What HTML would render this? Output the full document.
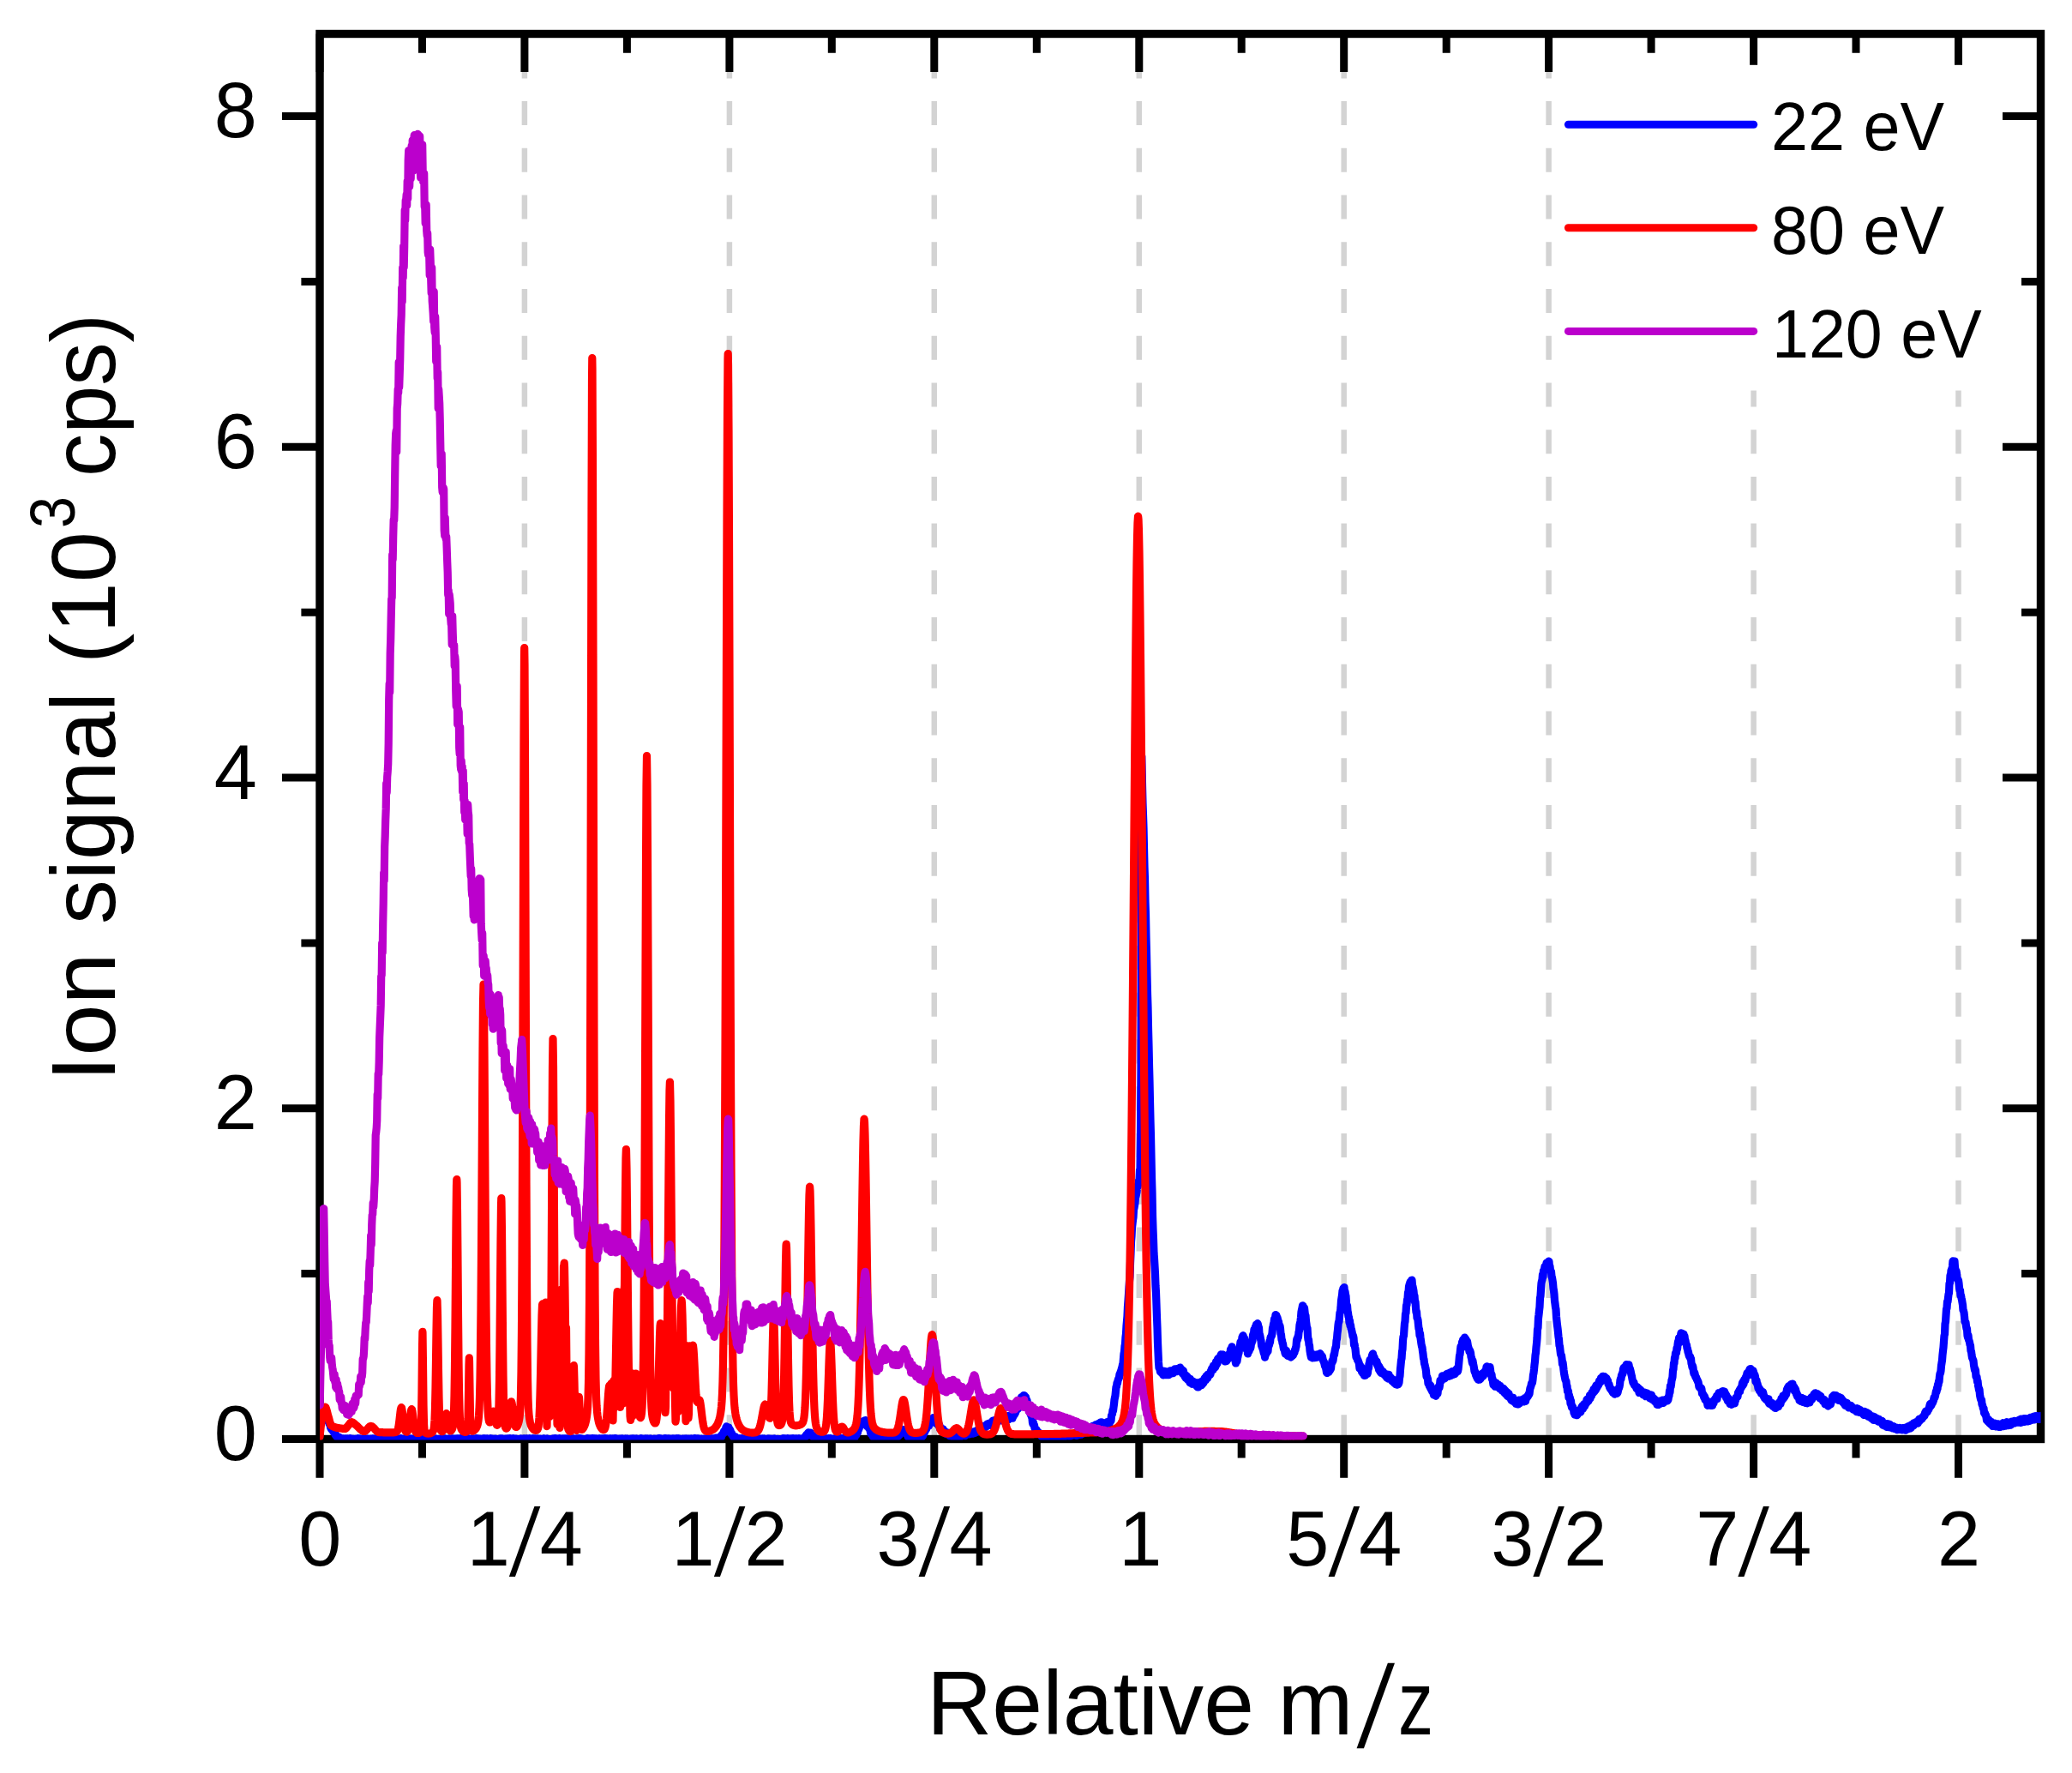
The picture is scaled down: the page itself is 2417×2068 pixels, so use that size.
<!DOCTYPE html>
<html lang="en"><head><meta charset="utf-8"><title>Ion signal vs relative m/z</title>
<style>html,body{margin:0;padding:0;background:#fff}body{width:2417px;height:2068px;overflow:hidden}svg{display:block}text{font-family:"Liberation Sans",sans-serif;fill:#000}</style></head><body>
<svg width="2417" height="2068" viewBox="0 0 2417 2068">
<rect width="2417" height="2068" fill="#fff"/>
<defs><clipPath id="plot"><rect x="373.0" y="39.5" width="2007.5" height="1640.0"/></clipPath></defs>
<g stroke="#d3d3d3" stroke-width="6.5" stroke-dasharray="28 26.72" fill="none">
<path d="M611.9 63.4V1674"/>
<path d="M850.9 63.4V1674"/>
<path d="M1089.8 63.4V1674"/>
<path d="M1328.8 63.4V1674"/>
<path d="M1567.7 63.4V1674"/>
<path d="M1806.6 63.4V1674"/>
<path d="M2045.6 63.4V1674"/>
<path d="M2284.5 63.4V1674"/>
</g>
<g stroke="#000" fill="none" stroke-linecap="butt">
<rect x="373.0" y="39.5" width="2007.5" height="1639.0" stroke-width="9.4"/>
<g stroke-width="9">
<path d="M373.0 1678.5V1723.8M373.0 39.5V84"/>
<path d="M611.9 1678.5V1723.8M611.9 39.5V84"/>
<path d="M850.9 1678.5V1723.8M850.9 39.5V84"/>
<path d="M1089.8 1678.5V1723.8M1089.8 39.5V84"/>
<path d="M1328.8 1678.5V1723.8M1328.8 39.5V84"/>
<path d="M1567.7 1678.5V1723.8M1567.7 39.5V84"/>
<path d="M1806.6 1678.5V1723.8M1806.6 39.5V84"/>
<path d="M2045.6 1678.5V1723.8M2045.6 39.5V84"/>
<path d="M2284.5 1678.5V1723.8M2284.5 39.5V84"/>
<path d="M492.5 1678.5V1700.6M492.5 39.5V61.8"/>
<path d="M731.4 1678.5V1700.6M731.4 39.5V61.8"/>
<path d="M970.3 1678.5V1700.6M970.3 39.5V61.8"/>
<path d="M1209.3 1678.5V1700.6M1209.3 39.5V61.8"/>
<path d="M1448.2 1678.5V1700.6M1448.2 39.5V61.8"/>
<path d="M1687.2 1678.5V1700.6M1687.2 39.5V61.8"/>
<path d="M1926.1 1678.5V1700.6M1926.1 39.5V61.8"/>
<path d="M2165.0 1678.5V1700.6M2165.0 39.5V61.8"/>
<path d="M373.0 1678.5H329M2380.5 1678.5H2336"/>
<path d="M373.0 1292.8H329M2380.5 1292.8H2336"/>
<path d="M373.0 907.0H329M2380.5 907.0H2336"/>
<path d="M373.0 521.3H329M2380.5 521.3H2336"/>
<path d="M373.0 135.6H329M2380.5 135.6H2336"/>
<path d="M373.0 1485.6H351.4M2380.5 1485.6H2358"/>
<path d="M373.0 1099.9H351.4M2380.5 1099.9H2358"/>
<path d="M373.0 714.2H351.4M2380.5 714.2H2358"/>
<path d="M373.0 328.5H351.4M2380.5 328.5H2358"/>
</g></g>
<g clip-path="url(#plot)" fill="none" stroke-width="9.2" stroke-linejoin="round" stroke-linecap="round">
<path stroke="#0000ff" d="M373 1637.7L373.5 1639.4L374 1639.6L374.5 1643.5L375 1641.7L375.5 1643.9L376 1643.8L376.5 1644.2L377 1648.5L377.5 1647.2L378 1648.7L378.5 1649.8L379 1651.3L379.5 1649.4L380 1649.4L380.5 1652.2L381 1651.6L381.5 1651.8L382 1657.1L382.5 1656.6L383 1656.6L383.5 1656.3L384 1660.4L384.5 1660.5L385 1660L385.5 1664.9L386 1665.9L386.5 1666.9L387 1667.5L387.5 1667.2L388 1667.2L388.5 1669.4L389 1668.4L389.5 1670.9L390 1669.9L390.5 1670.6L391 1673.4L391.5 1673L392 1674.6L392.5 1675.4L393 1676L393.5 1675.9L394 1676.8L394.5 1676.7L395 1677.5L395.5 1677.7L396 1676.3L396.5 1677L397 1677.5L397.5 1677.5L398 1677.6L398.5 1678.9L399 1677.6L399.5 1678L400 1678.9L400.5 1678.1L401 1678.1L401.5 1679.2L402 1678.9L402.5 1678.4L403 1677.9L403.5 1678.1L404 1679.3L404.5 1679L405 1677.8L405.5 1678.8L406 1678.3L406.5 1678.9L407 1678.2L407.5 1677.9L408 1677.7L408.5 1678.2L409 1679.1L409.5 1679.1L410 1678.8L410.5 1678.9L411 1678L411.5 1678.3L412 1679.1L412.5 1679.3L413 1678.4L413.5 1678.9L414 1679.2L414.5 1679.3L415 1678.2L415.5 1678.7L416 1678.3L416.5 1678.4L417 1678.4L417.5 1678.1L418 1677.7L418.5 1678.9L419 1678.8L419.5 1679L420 1677.9L420.5 1678.1L421 1678.7L421.5 1679.2L422 1678.5L422.5 1678L423 1678.7L423.5 1679.2L424 1679.1L424.5 1679.1L425 1678.4L425.5 1678.1L426 1679.1L426.5 1679L427 1679.1L427.5 1678.3L428 1678.2L428.5 1678.1L429 1679.1L429.5 1679.2L430 1678.3L430.5 1679.1L431 1678.3L431.5 1678.4L432 1678.6L432.5 1678.1L433 1678.1L433.5 1678.1L434 1678.1L434.5 1678.5L435 1677.9L435.5 1678.9L436 1678L436.5 1678.4L437 1678.7L437.5 1677.9L438 1678.4L438.5 1678.6L439 1678.6L439.5 1679.1L440 1679L440.5 1677.9L441 1679L441.5 1678.6L442 1678.8L442.5 1678L443 1678.5L443.5 1678.8L444 1679L444.5 1679L445 1678L445.5 1679L446 1678.6L446.5 1678.8L447 1679.1L447.5 1678.3L448 1679.2L448.5 1679.1L449 1679L449.5 1678.3L450 1678.5L450.5 1678L451 1678.9L451.5 1679.1L452 1678L452.5 1678.9L453 1678.8L453.5 1677.8L454 1679.2L454.5 1678.5L455 1678.1L455.5 1677.7L456 1679L456.5 1678.2L457 1678.5L457.5 1678L458 1678.7L458.5 1678.3L459 1679L459.5 1678.8L460 1678.9L460.5 1678.1L461 1677.8L461.5 1679.1L462 1679.2L462.5 1678.7L463 1679.2L463.5 1678.8L464 1678.7L464.5 1678.4L465 1678.3L465.5 1678.5L466 1678.1L466.5 1678.4L467 1678.5L467.5 1677.7L468 1678.3L468.5 1678.2L469 1678.7L469.5 1679L470 1678.7L470.5 1678.8L471 1678.7L471.5 1678.1L472 1678.3L472.5 1679.1L473 1679.2L473.5 1678L474 1677.7L474.5 1679.2L475 1679.1L475.5 1678.7L476 1679L476.5 1678.7L477 1679.1L477.5 1678.1L478 1678.4L478.5 1678.8L479 1678L479.5 1678.8L480 1678.1L480.5 1678.8L481 1679L481.5 1678.4L482 1679.3L482.5 1678.7L483 1678.9L483.5 1677.7L484 1677.9L484.5 1678.8L485 1679.2L485.5 1678.7L486 1679.2L486.5 1677.8L487 1679.1L487.5 1679.1L488 1678.7L488.5 1678.4L489 1678.8L489.5 1678.1L490 1678.8L490.5 1678.8L491 1678.6L491.5 1678.1L492 1677.7L492.5 1678L493 1679L493.5 1678L494 1677.8L494.5 1678.1L495 1678.5L495.5 1678.6L496 1679.1L496.5 1679.1L497 1679.2L497.5 1679.1L498 1678.4L498.5 1677.9L499 1679.2L499.5 1678.1L500 1678.7L500.5 1678.1L501 1679L501.5 1678L502 1678.4L502.5 1678.1L503 1679.1L503.5 1678.7L504 1678.7L504.5 1678.2L505 1678L505.5 1679.1L506 1678.9L506.5 1678.9L507 1679.3L507.5 1678.6L508 1678L508.5 1678.7L509 1678.2L509.5 1678.5L510 1678.4L510.5 1678.6L511 1679.2L511.5 1679L512 1678.4L512.5 1679L513 1679.1L513.5 1678.9L514 1678.6L514.5 1679.1L515 1678.5L515.5 1677.9L516 1678.1L516.5 1678.8L517 1678.3L517.5 1678.4L518 1678.3L518.5 1678L519 1677.8L519.5 1677.8L520 1678.8L520.5 1678.2L521 1678.4L521.5 1679.2L522 1678.7L522.5 1679L523 1678.9L523.5 1679.2L524 1677.8L524.5 1678.3L525 1679.2L525.5 1678.4L526 1679.2L526.5 1678L527 1677.8L527.5 1679.1L528 1678.4L528.5 1678.5L529 1679.2L529.5 1678.1L530 1679.2L530.5 1678.3L531 1678.1L531.5 1678.1L532 1678.5L532.5 1678.4L533 1679.1L533.5 1677.8L534 1677.8L534.5 1677.9L535 1678.7L535.5 1679L536 1678.5L536.5 1678.7L537 1678.7L537.5 1677.7L538 1678.1L538.5 1679.3L539 1678.2L539.5 1679.2L540 1678.5L540.5 1678.1L541 1677.7L541.5 1678L542 1678.2L542.5 1678.4L543 1678.4L543.5 1678.6L544 1678.5L544.5 1677.8L545 1678.1L545.5 1679.2L546 1677.7L546.5 1678.9L547 1678.5L547.5 1678.8L548 1678.2L548.5 1678.3L549 1678.5L549.5 1679.2L550 1678.2L550.5 1677.8L551 1677.8L551.5 1679.1L552 1678.2L552.5 1677.9L553 1678.7L553.5 1679.1L554 1678.7L554.5 1677.9L555 1678.3L555.5 1678.1L556 1677.7L556.5 1679.2L557 1678.4L557.5 1677.9L558 1679.1L558.5 1679.3L559 1679L559.5 1678.1L560 1678L560.5 1678.5L561 1678.6L561.5 1679.1L562 1679.2L562.5 1679.2L563 1678.2L563.5 1678.6L564 1677.9L564.5 1678.5L565 1677.8L565.5 1677.9L566 1677.9L566.5 1678.2L567 1678.2L567.5 1678.8L568 1677.8L568.5 1677.9L569 1678.8L569.5 1678.8L570 1678.8L570.5 1678.9L571 1678.8L571.5 1678.6L572 1678.9L572.5 1677.8L573 1678L573.5 1678.9L574 1678L574.5 1678.5L575 1678.1L575.5 1678.4L576 1679L576.5 1678.8L577 1678.4L577.5 1678.1L578 1679L578.5 1678.8L579 1678.4L579.5 1679.1L580 1678.8L580.5 1679.3L581 1678.8L581.5 1679.1L582 1678.6L582.5 1678.8L583 1679L583.5 1677.8L584 1678.5L584.5 1678.7L585 1677.8L585.5 1679L586 1678.8L586.5 1679.2L587 1678.3L587.5 1678.5L588 1679.2L588.5 1678.4L589 1679L589.5 1678.4L590 1678.2L590.5 1678.1L591 1678L591.5 1678.4L592 1678L592.5 1679L593 1679.3L593.5 1677.9L594 1677.8L594.5 1677.7L595 1679.2L595.5 1677.8L596 1678.8L596.5 1678.2L597 1678L597.5 1678.1L598 1678.8L598.5 1677.7L599 1679.1L599.5 1678.6L600 1678.1L600.5 1678L601 1678.7L601.5 1678.7L602 1678.2L602.5 1678.2L603 1678.4L603.5 1679.2L604 1678.6L604.5 1679L605 1678.7L605.5 1678.6L606 1678.5L606.5 1678.8L607 1678.5L607.5 1678.9L608 1678L608.5 1678.2L609 1679.1L609.5 1678.3L610 1679L610.5 1679.2L611 1678.6L611.5 1677.9L612 1678.9L612.5 1678.8L613 1678.2L613.5 1679.1L614 1678.5L614.5 1677.8L615 1677.8L615.5 1678.1L616 1678.7L616.5 1679L617 1677.9L617.5 1677.7L618 1678.7L618.5 1678.4L619 1678.4L619.5 1679L620 1679.2L620.5 1679.2L621 1678.9L621.5 1677.7L622 1677.9L622.5 1678.6L623 1679.2L623.5 1677.8L624 1678.5L624.5 1678.3L625 1678.4L625.5 1678.1L626 1678.1L626.5 1678.1L627 1677.9L627.5 1678.6L628 1678.4L628.5 1678.8L629 1678.7L629.5 1679.2L630 1678.2L630.5 1679.1L631 1678.3L631.5 1678.8L632 1679L632.5 1678.3L633 1678.4L633.5 1678.7L634 1677.9L634.5 1678.6L635 1677.9L635.5 1678.1L636 1678.7L636.5 1679.3L637 1679.3L637.5 1678.1L638 1677.9L638.5 1678.5L639 1678.4L639.5 1678.3L640 1678.9L640.5 1678.8L641 1678.6L641.5 1678.7L642 1678.6L642.5 1678.8L643 1679.2L643.5 1679.2L644 1679.3L644.5 1679.1L645 1677.9L645.5 1678.4L646 1679L646.5 1678.2L647 1678.7L647.5 1677.8L648 1678L648.5 1678.3L649 1677.8L649.5 1678.4L650 1678.1L650.5 1679.1L651 1678.2L651.5 1678.3L652 1679L652.5 1678.6L653 1677.8L653.5 1678L654 1678.7L654.5 1678L655 1678.1L655.5 1678.7L656 1678.5L656.5 1678.1L657 1678.6L657.5 1678.7L658 1677.8L658.5 1678.1L659 1678.2L659.5 1679.1L660 1677.8L660.5 1678.3L661 1678L661.5 1678.8L662 1679L662.5 1677.8L663 1679.1L663.5 1678.8L664 1678L664.5 1679.2L665 1678.2L665.5 1679L666 1677.8L666.5 1678.4L667 1678.5L667.5 1679.1L668 1679L668.5 1678.6L669 1677.8L669.5 1678.4L670 1678.3L670.5 1679.3L671 1678.8L671.5 1678.3L672 1678.3L672.5 1678.9L673 1677.9L673.5 1679L674 1678.8L674.5 1678.4L675 1678.8L675.5 1678.3L676 1677.9L676.5 1678.4L677 1677.8L677.5 1677.8L678 1678.4L678.5 1679L679 1678L679.5 1678.5L680 1679.3L680.5 1679L681 1679.1L681.5 1678.8L682 1678.6L682.5 1678.6L683 1678.7L683.5 1678.4L684 1678.3L684.5 1678.1L685 1677.8L685.5 1678.3L686 1678.9L686.5 1678.6L687 1678L687.5 1679L688 1677.8L688.5 1679.2L689 1678.7L689.5 1678.6L690 1678.4L690.5 1679L691 1677.7L691.5 1677.7L692 1678.5L692.5 1678.2L693 1678.3L693.5 1678.6L694 1677.8L694.5 1679.3L695 1678.8L695.5 1677.9L696 1678.9L696.5 1678.6L697 1678.8L697.5 1678.9L698 1679.3L698.5 1677.9L699 1679.3L699.5 1678.5L700 1678L700.5 1678.3L701 1678.3L701.5 1679.1L702 1678.5L702.5 1677.8L703 1678.8L703.5 1678.5L704 1679L704.5 1677.8L705 1679.1L705.5 1679.1L706 1677.7L706.5 1678.5L707 1677.9L707.5 1678.5L708 1677.8L708.5 1679.1L709 1678L709.5 1678.8L710 1678.7L710.5 1678.2L711 1678L711.5 1679.2L712 1677.8L712.5 1678.1L713 1678.2L713.5 1678.6L714 1678.3L714.5 1677.9L715 1678.6L715.5 1678.9L716 1678.8L716.5 1678.5L717 1678.2L717.5 1677.7L718 1678.6L718.5 1678.7L719 1678.4L719.5 1679.2L720 1678L720.5 1679L721 1678.9L721.5 1679.1L722 1679.2L722.5 1678.1L723 1679.2L723.5 1678.3L724 1678.8L724.5 1679.2L725 1678.7L725.5 1678.6L726 1677.8L726.5 1678.7L727 1678.1L727.5 1678.3L728 1678.3L728.5 1679.3L729 1678.7L729.5 1678.9L730 1678L730.5 1678.2L731 1679.1L731.5 1677.9L732 1679.2L732.5 1678.4L733 1678.3L733.5 1678.5L734 1678.4L734.5 1678.5L735 1678.4L735.5 1678.8L736 1678.1L736.5 1678L737 1678.4L737.5 1677.8L738 1678.4L738.5 1678.5L739 1679L739.5 1677.9L740 1678.3L740.5 1678.9L741 1678.2L741.5 1679L742 1678.8L742.5 1677.8L743 1678.3L743.5 1678.9L744 1678.5L744.5 1678.8L745 1679.3L745.5 1678.8L746 1678.6L746.5 1679.1L747 1678.4L747.5 1677.7L748 1678.1L748.5 1678.7L749 1679.2L749.5 1678.7L750 1678.2L750.5 1679.3L751 1678.3L751.5 1678.1L752 1678.6L752.5 1678.3L753 1677.9L753.5 1678.8L754 1678.8L754.5 1679.3L755 1677.9L755.5 1679.2L756 1679L756.5 1678.1L757 1678.5L757.5 1678.7L758 1678.2L758.5 1677.9L759 1679L759.5 1678L760 1678.5L760.5 1678.4L761 1679.1L761.5 1678.6L762 1678.4L762.5 1679.3L763 1678.3L763.5 1678.9L764 1678.1L764.5 1678.9L765 1678.9L765.5 1679L766 1678.5L766.5 1678.1L767 1678.7L767.5 1679.2L768 1678.2L768.5 1677.7L769 1678L769.5 1679.2L770 1677.7L770.5 1677.8L771 1677.9L771.5 1679.1L772 1678.3L772.5 1678.8L773 1678.8L773.5 1678.4L774 1678.9L774.5 1678.4L775 1678.6L775.5 1678.2L776 1677.7L776.5 1678.6L777 1678.1L777.5 1678.1L778 1679.1L778.5 1678.3L779 1677.9L779.5 1678.7L780 1678.6L780.5 1677.8L781 1678.3L781.5 1678.7L782 1678.1L782.5 1679.3L783 1679L783.5 1678.5L784 1679.2L784.5 1677.8L785 1678.1L785.5 1679.2L786 1678.5L786.5 1678L787 1678.6L787.5 1678.9L788 1678.7L788.5 1677.8L789 1677.8L789.5 1678.4L790 1677.7L790.5 1677.8L791 1678.7L791.5 1678.4L792 1677.8L792.5 1679.1L793 1678.3L793.5 1679.1L794 1678.7L794.5 1678.7L795 1678.4L795.5 1678.8L796 1678.1L796.5 1678.1L797 1679.1L797.5 1678L798 1678.3L798.5 1678.9L799 1678.2L799.5 1678.3L800 1679.2L800.5 1678L801 1678.1L801.5 1679.1L802 1678.1L802.5 1678.2L803 1679.1L803.5 1678.2L804 1679.3L804.5 1679L805 1679.1L805.5 1678.1L806 1678L806.5 1678.9L807 1679L807.5 1678.1L808 1678L808.5 1678.1L809 1677.9L809.5 1678.4L810 1678.5L810.5 1678.7L811 1677.8L811.5 1678L812 1677.9L812.5 1678.1L813 1678L813.5 1679.2L814 1678.3L814.5 1677.9L815 1678.8L815.5 1679.3L816 1679L816.5 1678.7L817 1678.3L817.5 1678.3L818 1678.2L818.5 1679L819 1679L819.5 1678.5L820 1679.1L820.5 1678.7L821 1678.8L821.5 1678.1L822 1678.1L822.5 1678.1L823 1679.2L823.5 1679L824 1679.1L824.5 1679L825 1679L825.5 1678.4L826 1678.9L826.5 1678L827 1678.7L827.5 1677.8L828 1679.2L828.5 1679.1L829 1678L829.5 1678.9L830 1679L830.5 1677.8L831 1678.6L831.5 1678.3L832 1678.6L832.5 1679L833 1678.7L833.5 1677.7L834 1678.2L834.5 1678.2L835 1677.1L835.5 1677.2L836 1677.5L836.5 1677L837 1676.9L837.5 1677.7L838 1678.1L838.5 1676.9L839 1677.1L839.5 1677.2L840 1676.9L840.5 1676.6L841 1674.7L841.5 1676.1L842 1673.7L842.5 1672.9L843 1672.9L843.5 1672.2L844 1671.9L844.5 1669.4L845 1670.8L845.5 1668.8L846 1668.9L846.5 1666.8L847 1664.6L847.5 1663.9L848 1666.3L848.5 1665.3L849 1665.5L849.5 1665.3L850 1665.2L850.5 1667L851 1666.8L851.5 1670L852 1668.3L852.5 1671.9L853 1672.3L853.5 1671.7L854 1673.7L854.5 1674L855 1674.5L855.5 1676L856 1676.6L856.5 1675.6L857 1677.4L857.5 1675.7L858 1675.8L858.5 1677L859 1676.8L859.5 1677.2L860 1677.5L860.5 1677.6L861 1678.6L861.5 1678.7L862 1677.8L862.5 1677.8L863 1678.5L863.5 1677.8L864 1678.2L864.5 1678.8L865 1677.7L865.5 1678.9L866 1678.9L866.5 1678.3L867 1678.1L867.5 1678.6L868 1678.2L868.5 1679L869 1678.6L869.5 1678.2L870 1679L870.5 1678.7L871 1677.9L871.5 1678.4L872 1678.5L872.5 1679.2L873 1678.2L873.5 1678.4L874 1679.3L874.5 1678.4L875 1679L875.5 1677.9L876 1678.3L876.5 1678L877 1679.1L877.5 1678.6L878 1678L878.5 1677.8L879 1678.4L879.5 1677.9L880 1678.5L880.5 1678.9L881 1678.2L881.5 1678L882 1678.3L882.5 1678L883 1679.1L883.5 1677.9L884 1678.9L884.5 1678.2L885 1678.9L885.5 1678.9L886 1677.9L886.5 1678.9L887 1679.2L887.5 1678.6L888 1678.7L888.5 1678.2L889 1678L889.5 1678.9L890 1679L890.5 1678L891 1677.9L891.5 1678.3L892 1678.7L892.5 1678.3L893 1679.2L893.5 1679L894 1679.2L894.5 1678.7L895 1678.9L895.5 1679.2L896 1677.8L896.5 1678.6L897 1678L897.5 1679L898 1678.1L898.5 1678.9L899 1678.2L899.5 1678.7L900 1678.8L900.5 1679.2L901 1679.1L901.5 1678.4L902 1678.8L902.5 1678L903 1677.9L903.5 1678.8L904 1679.2L904.5 1678.9L905 1678.5L905.5 1678.7L906 1678.9L906.5 1678.6L907 1678.3L907.5 1679.1L908 1678.3L908.5 1679.1L909 1679L909.5 1679L910 1679L910.5 1679.3L911 1679.3L911.5 1678.5L912 1678.3L912.5 1678.9L913 1679.2L913.5 1678.7L914 1677.7L914.5 1677.8L915 1678.4L915.5 1679L916 1679.1L916.5 1678.3L917 1678.5L917.5 1678.5L918 1677.9L918.5 1677.7L919 1678.5L919.5 1678.5L920 1679.1L920.5 1678L921 1679.1L921.5 1678.1L922 1678.6L922.5 1678.8L923 1677.9L923.5 1679.2L924 1679.2L924.5 1679.3L925 1677.7L925.5 1678.7L926 1678.8L926.5 1679.1L927 1678L927.5 1677.9L928 1679L928.5 1678.1L929 1677.8L929.5 1677.8L930 1678.7L930.5 1678.6L931 1678.9L931.5 1679L932 1677.7L932.5 1679.2L933 1679.1L933.5 1679.2L934 1678.9L934.5 1678.3L935 1678.1L935.5 1679.1L936 1678.1L936.5 1678L937 1678.1L937.5 1677.6L938 1677.2L938.5 1676.6L939 1675.8L939.5 1675.9L940 1674.4L940.5 1673.6L941 1674.8L941.5 1674.2L942 1673.5L942.5 1671.5L943 1670.9L943.5 1673.3L944 1673.3L944.5 1671.4L945 1672.6L945.5 1671.1L946 1672.5L946.5 1673.8L947 1673.3L947.5 1675L948 1675.7L948.5 1674.4L949 1676.2L949.5 1676L950 1676.1L950.5 1677L951 1677.6L951.5 1678.7L952 1678.7L952.5 1677.6L953 1677.8L953.5 1679.3L954 1678.6L954.5 1678.7L955 1678.3L955.5 1679L956 1678.6L956.5 1678.6L957 1678.1L957.5 1678.9L958 1678L958.5 1677.9L959 1678.6L959.5 1679L960 1678.1L960.5 1678.2L961 1677.9L961.5 1678.6L962 1678.9L962.5 1677.9L963 1678.5L963.5 1678.5L964 1677.8L964.5 1678.5L965 1678.1L965.5 1677.9L966 1679.2L966.5 1677.7L967 1678.2L967.5 1678.6L968 1678.2L968.5 1677.6L969 1679L969.5 1677.9L970 1678.2L970.5 1679.1L971 1679.1L971.5 1679L972 1678.2L972.5 1678.7L973 1678.9L973.5 1677.8L974 1679.1L974.5 1677.6L975 1678.5L975.5 1677.8L976 1677.8L976.5 1677.6L977 1679L977.5 1677.6L978 1678.9L978.5 1677.6L979 1677.9L979.5 1677.7L980 1679L980.5 1677.4L981 1678.7L981.5 1677.7L982 1678.9L982.5 1678.5L983 1677.6L983.5 1678L984 1677.4L984.5 1677.8L985 1677.1L985.5 1678.3L986 1678.1L986.5 1677.5L987 1677L987.5 1678.7L988 1677.2L988.5 1677.5L989 1676.9L989.5 1677.6L990 1677.6L990.5 1677.8L991 1677.4L991.5 1677.2L992 1678.2L992.5 1677.2L993 1677.3L993.5 1677.6L994 1677.1L994.5 1678L995 1676.7L995.5 1677L996 1676.9L996.5 1676.1L997 1676.8L997.5 1675L998 1674.3L998.5 1673.5L999 1673.6L999.5 1670.7L1000 1671.5L1000.5 1670.9L1001 1667.2L1001.5 1665.6L1002 1666.9L1002.5 1663.7L1003 1662.2L1003.5 1660.4L1004 1661.9L1004.5 1662.4L1005 1661.3L1005.5 1659.2L1006 1657.9L1006.5 1660L1007 1658.1L1007.5 1659.4L1008 1658.1L1008.5 1658.4L1009 1658.7L1009.5 1656.5L1010 1657.8L1010.5 1657.7L1011 1662.6L1011.5 1663.8L1012 1663L1012.5 1662L1013 1663.1L1013.5 1665.7L1014 1666.6L1014.5 1667.1L1015 1667.9L1015.5 1671L1016 1672.5L1016.5 1671.3L1017 1672.9L1017.5 1673.8L1018 1675.1L1018.5 1675.9L1019 1675.9L1019.5 1677.2L1020 1676.3L1020.5 1676.1L1021 1677.2L1021.5 1677.4L1022 1677.5L1022.5 1676L1023 1676.1L1023.5 1676.7L1024 1677.8L1024.5 1677.1L1025 1677.1L1025.5 1676.6L1026 1678L1026.5 1676.3L1027 1677.1L1027.5 1677.4L1028 1677.7L1028.5 1677.7L1029 1676.9L1029.5 1676.7L1030 1678.1L1030.5 1677.3L1031 1676.8L1031.5 1676.5L1032 1677.9L1032.5 1678L1033 1677.4L1033.5 1677.1L1034 1677.6L1034.5 1678.3L1035 1677.5L1035.5 1677.9L1036 1678.1L1036.5 1677.9L1037 1677.4L1037.5 1676.8L1038 1677.8L1038.5 1678.1L1039 1678.3L1039.5 1676.8L1040 1676.7L1040.5 1677.7L1041 1678.1L1041.5 1676.7L1042 1677.7L1042.5 1677L1043 1678.5L1043.5 1677.2L1044 1676.7L1044.5 1678L1045 1677.1L1045.5 1677.2L1046 1676.4L1046.5 1676.3L1047 1675.3L1047.5 1674.9L1048 1674.9L1048.5 1673.3L1049 1673.5L1049.5 1673.4L1050 1671.6L1050.5 1668.9L1051 1671.4L1051.5 1668.1L1052 1668.1L1052.5 1668.3L1053 1668.5L1053.5 1667.4L1054 1668L1054.5 1669L1055 1668.8L1055.5 1668.8L1056 1669.9L1056.5 1670.5L1057 1671L1057.5 1672.8L1058 1673.4L1058.5 1673.9L1059 1675.4L1059.5 1676.3L1060 1676.6L1060.5 1676.4L1061 1678L1061.5 1676.6L1062 1678.1L1062.5 1677.3L1063 1677.3L1063.5 1678.1L1064 1677.7L1064.5 1678.3L1065 1678.1L1065.5 1676.6L1066 1677.3L1066.5 1677.8L1067 1676.3L1067.5 1677.2L1068 1678L1068.5 1676.4L1069 1676.1L1069.5 1676.3L1070 1676.4L1070.5 1676.1L1071 1676.3L1071.5 1677.1L1072 1676.3L1072.5 1676.3L1073 1675.1L1073.5 1674.9L1074 1676.8L1074.5 1675.3L1075 1676.6L1075.5 1674.9L1076 1675.3L1076.5 1674.9L1077 1672.7L1077.5 1671.9L1078 1672.1L1078.5 1670.2L1079 1669.8L1079.5 1668.4L1080 1667.7L1080.5 1667.1L1081 1665.4L1081.5 1664.4L1082 1663.9L1082.5 1663.7L1083 1659.7L1083.5 1663.1L1084 1659.5L1084.5 1660.9L1085 1655.8L1085.5 1655.3L1086 1654.9L1086.5 1658.3L1087 1655.5L1087.5 1657.3L1088 1656.5L1088.5 1653.7L1089 1655.1L1089.5 1655.2L1090 1656.1L1090.5 1658L1091 1655.2L1091.5 1659.8L1092 1658.2L1092.5 1658.3L1093 1660.5L1093.5 1659.3L1094 1662L1094.5 1661.4L1095 1662.4L1095.5 1661.8L1096 1662.6L1096.5 1666.3L1097 1665.7L1097.5 1665.7L1098 1667.8L1098.5 1668.9L1099 1666.5L1099.5 1670.2L1100 1666.9L1100.5 1669.5L1101 1668.5L1101.5 1668.8L1102 1670L1102.5 1670.7L1103 1670.5L1103.5 1671.7L1104 1672.7L1104.5 1670.6L1105 1671.1L1105.5 1672.5L1106 1672.2L1106.5 1672.2L1107 1673.1L1107.5 1673.9L1108 1674.7L1108.5 1675L1109 1674.9L1109.5 1673.9L1110 1675.4L1110.5 1675.2L1111 1674L1111.5 1676.1L1112 1674.5L1112.5 1675.7L1113 1675.8L1113.5 1676.4L1114 1675.8L1114.5 1676.6L1115 1674.5L1115.5 1674.4L1116 1674.8L1116.5 1675.6L1117 1675.2L1117.5 1674.4L1118 1674.6L1118.5 1675.5L1119 1675L1119.5 1675.8L1120 1675L1120.5 1675.9L1121 1675.6L1121.5 1674.8L1122 1674.4L1122.5 1673.9L1123 1674L1123.5 1674L1124 1673.9L1124.5 1673.3L1125 1674L1125.5 1672.8L1126 1674.8L1126.5 1673.8L1127 1672.4L1127.5 1672.8L1128 1672.5L1128.5 1672.1L1129 1672.8L1129.5 1671.8L1130 1671.5L1130.5 1673L1131 1672L1131.5 1672.6L1132 1671.9L1132.5 1671.8L1133 1671L1133.5 1671.2L1134 1671.3L1134.5 1670.6L1135 1672.1L1135.5 1670L1136 1669.8L1136.5 1670L1137 1671.3L1137.5 1671.3L1138 1670.1L1138.5 1669.2L1139 1670L1139.5 1670.4L1140 1668.1L1140.5 1669.4L1141 1669.4L1141.5 1668L1142 1666.8L1142.5 1668.3L1143 1666.5L1143.5 1666.9L1144 1667.3L1144.5 1668.7L1145 1665.2L1145.5 1664.6L1146 1666.3L1146.5 1667.7L1147 1663.7L1147.5 1665.9L1148 1663L1148.5 1665L1149 1662.8L1149.5 1664.9L1150 1663.2L1150.5 1664.2L1151 1662.1L1151.5 1660.9L1152 1661.1L1152.5 1661.2L1153 1660.4L1153.5 1660.2L1154 1661.6L1154.5 1660.8L1155 1662.3L1155.5 1660.5L1156 1660.5L1156.5 1661.1L1157 1661.5L1157.5 1660L1158 1657.2L1158.5 1659L1159 1656.8L1159.5 1659.2L1160 1656.5L1160.5 1658.5L1161 1656.5L1161.5 1659.6L1162 1655.8L1162.5 1658.3L1163 1658.3L1163.5 1656.1L1164 1657.4L1164.5 1656L1165 1655.5L1165.5 1655.3L1166 1654L1166.5 1656.9L1167 1653.9L1167.5 1654.4L1168 1653.7L1168.5 1656.9L1169 1655.5L1169.5 1655L1170 1655.4L1170.5 1656.3L1171 1655.3L1171.5 1654.7L1172 1653.6L1172.5 1654.5L1173 1656.6L1173.5 1654.5L1174 1654L1174.5 1655.9L1175 1651.8L1175.5 1651.7L1176 1655.1L1176.5 1655.8L1177 1651.4L1177.5 1651.2L1178 1651L1178.5 1653.6L1179 1651.3L1179.5 1653.2L1180 1653.6L1180.5 1650.3L1181 1654.2L1181.5 1651L1182 1652.2L1182.5 1651L1183 1650.4L1183.5 1650L1184 1647.1L1184.5 1648.2L1185 1646.2L1185.5 1645.4L1186 1643.1L1186.5 1642.7L1187 1643.2L1187.5 1643.5L1188 1638.5L1188.5 1640.8L1189 1638.3L1189.5 1634.5L1190 1632.8L1190.5 1635.9L1191 1631.4L1191.5 1629.6L1192 1631.4L1192.5 1630.8L1193 1631.1L1193.5 1628.7L1194 1627.6L1194.5 1627.9L1195 1627.7L1195.5 1630.5L1196 1632.9L1196.5 1629.6L1197 1632.3L1197.5 1633.4L1198 1633.3L1198.5 1637.4L1199 1640.8L1199.5 1638.8L1200 1642.5L1200.5 1644.8L1201 1643.2L1201.5 1647.9L1202 1648.9L1202.5 1650.4L1203 1650.3L1203.5 1652.8L1204 1654L1204.5 1659.7L1205 1661L1205.5 1659.1L1206 1662.4L1206.5 1662.2L1207 1666L1207.5 1666.3L1208 1668.8L1208.5 1668.9L1209 1667.4L1209.5 1669.2L1210 1670.5L1210.5 1672L1211 1670.7L1211.5 1670.6L1212 1671.4L1212.5 1671.7L1213 1671.8L1213.5 1672.8L1214 1672.9L1214.5 1674L1215 1675.3L1215.5 1675.7L1216 1674L1216.5 1675.2L1217 1675.7L1217.5 1674.6L1218 1675.7L1218.5 1675L1219 1675.5L1219.5 1675.5L1220 1676.6L1220.5 1675.3L1221 1676L1221.5 1676.1L1222 1675.5L1222.5 1676.9L1223 1675.5L1223.5 1675.5L1224 1676.3L1224.5 1675.8L1225 1676.4L1225.5 1675L1226 1675L1226.5 1676.3L1227 1675.5L1227.5 1676.6L1228 1675.1L1228.5 1675.1L1229 1676.5L1229.5 1675.4L1230 1674.8L1230.5 1675L1231 1676.2L1231.5 1675L1232 1675.7L1232.5 1676.3L1233 1675.8L1233.5 1676.1L1234 1676.6L1234.5 1674.9L1235 1676.3L1235.5 1675.5L1236 1674.6L1236.5 1674.4L1237 1674.8L1237.5 1674.3L1238 1675.8L1238.5 1675.2L1239 1673.9L1239.5 1675.9L1240 1675.2L1240.5 1674.8L1241 1674L1241.5 1674.8L1242 1675.8L1242.5 1674.9L1243 1674.6L1243.5 1674.9L1244 1674.7L1244.5 1674.8L1245 1673.7L1245.5 1673.5L1246 1673.1L1246.5 1675.2L1247 1672.9L1247.5 1673.5L1248 1674.3L1248.5 1674L1249 1675.1L1249.5 1673.2L1250 1672.8L1250.5 1672.9L1251 1673.7L1251.5 1673.1L1252 1673.5L1252.5 1674L1253 1672.9L1253.5 1673.8L1254 1672L1254.5 1673.4L1255 1674.3L1255.5 1674.3L1256 1673.2L1256.5 1674.3L1257 1672.1L1257.5 1672.2L1258 1672.5L1258.5 1672.6L1259 1673.5L1259.5 1672.3L1260 1671L1260.5 1672.9L1261 1671.3L1261.5 1673.2L1262 1671.1L1262.5 1671.3L1263 1670.7L1263.5 1671L1264 1671.8L1264.5 1670.5L1265 1669.6L1265.5 1671.1L1266 1671.4L1266.5 1669L1267 1669.8L1267.5 1668.3L1268 1667.8L1268.5 1668.7L1269 1668.1L1269.5 1669.9L1270 1666.4L1270.5 1668.4L1271 1668.4L1271.5 1666.9L1272 1666.9L1272.5 1665.5L1273 1665.2L1273.5 1664L1274 1667.3L1274.5 1663.3L1275 1663.4L1275.5 1665.7L1276 1664.2L1276.5 1664.2L1277 1663L1277.5 1662.1L1278 1664.8L1278.5 1661.5L1279 1662.1L1279.5 1664L1280 1661.7L1280.5 1664.5L1281 1660.7L1281.5 1662.1L1282 1662L1282.5 1661.6L1283 1662.7L1283.5 1659.2L1284 1661.4L1284.5 1662.4L1285 1658.9L1285.5 1661.2L1286 1660.6L1286.5 1660.4L1287 1661L1287.5 1661.4L1288 1661.7L1288.5 1662.6L1289 1661.4L1289.5 1663L1290 1661.4L1290.5 1659.6L1291 1659L1291.5 1658.6L1292 1659.5L1292.5 1658.7L1293 1661.3L1293.5 1661.3L1294 1660.8L1294.5 1659.2L1295 1658.6L1295.5 1656.2L1296 1657.5L1296.5 1651.1L1297 1650.3L1297.5 1649.1L1298 1644.8L1298.5 1645.7L1299 1641.3L1299.5 1637.7L1300 1632.7L1300.5 1630.1L1301 1627.9L1301.5 1622.6L1302 1617.8L1302.5 1617.3L1303 1613L1303.5 1613.4L1304 1610.5L1304.5 1608.8L1305 1608.2L1305.5 1606.6L1306 1602.9L1306.5 1603.3L1307 1600.6L1307.5 1599.3L1308 1598L1308.5 1595.9L1309 1594.6L1309.5 1591.7L1310 1590.8L1310.5 1584.6L1311 1579.1L1311.5 1576.5L1312 1570.2L1312.5 1567.7L1313 1559.6L1313.5 1555.8L1314 1546.7L1314.5 1540.9L1315 1535.1L1315.5 1523.6L1316 1517.2L1316.5 1509.7L1317 1501.3L1317.5 1494L1318 1489.1L1318.5 1473.4L1319 1462.3L1319.5 1448.4L1320 1442.2L1320.5 1431.6L1321 1427.8L1321.5 1423.1L1322 1420L1322.5 1410.8L1323 1409L1323.5 1406L1324 1403.1L1324.5 1396.4L1325 1395.3L1325.5 1392.9L1326 1390.6L1326.5 1385.1L1327 1384.7L1327.5 1381.8L1328 1380L1328.5 1376.7L1329 1376.5L1329.5 1364.7L1330 1364.1L1330.5 1325.7L1331 1246.9L1331.5 991.8L1331.8 882.2L1332 891.1L1332.5 916.3L1333 936.8L1333.5 950.7L1334 965.8L1334.5 989.4L1335 1011.3L1335.5 1025.2L1336 1051.8L1336.5 1066.3L1337 1093.3L1337.5 1112.8L1338 1137.7L1338.5 1159.3L1339 1174.8L1339.5 1200L1340 1219.7L1340.5 1242.8L1341 1261.7L1341.5 1285.5L1342 1307.3L1342.5 1325.7L1343 1350.1L1343.5 1373.9L1344 1390.3L1344.5 1418L1345 1433.8L1345.5 1446L1346 1461.9L1346.5 1468.3L1347 1477L1347.5 1485.9L1348 1499.6L1348.5 1507.6L1349 1522L1349.5 1536.6L1350 1548.9L1350.5 1566L1351 1577.4L1351.5 1589L1352 1595.4L1352.5 1596.1L1353 1597.1L1353.5 1600L1354 1600.7L1354.5 1599.8L1355 1599.5L1355.5 1600.3L1356 1602.4L1356.5 1599.4L1357 1603.9L1357.5 1599.9L1358 1600.1L1358.5 1599.4L1359 1600.9L1359.5 1600.8L1360 1602.5L1360.5 1603.7L1361 1600.2L1361.5 1603.2L1362 1600.6L1362.5 1601.1L1363 1599.6L1363.5 1603.7L1364 1600.9L1364.5 1602.6L1365 1598.8L1365.5 1602.3L1366 1599.6L1366.5 1600.6L1367 1601.6L1367.5 1598.6L1368 1600.3L1368.5 1601.7L1369 1597.8L1369.5 1599.1L1370 1597.3L1370.5 1596.8L1371 1598.4L1371.5 1598L1372 1598.7L1372.5 1599.7L1373 1598.6L1373.5 1596.4L1374 1597.1L1374.5 1598L1375 1598.8L1375.5 1597.9L1376 1596.9L1376.5 1595L1377 1599.3L1377.5 1596.5L1378 1597.6L1378.5 1600.7L1379 1597.7L1379.5 1602.2L1380 1599.2L1380.5 1599.2L1381 1602.3L1381.5 1604.6L1382 1603.2L1382.5 1606.4L1383 1604.7L1383.5 1607.6L1384 1604.5L1384.5 1606L1385 1605.6L1385.5 1609.3L1386 1608.3L1386.5 1609.7L1387 1607.9L1387.5 1611L1388 1612.8L1388.5 1608.4L1389 1610.1L1389.5 1613.5L1390 1613.8L1390.5 1614.3L1391 1611.2L1391.5 1613.4L1392 1611.2L1392.5 1613.4L1393 1614.5L1393.5 1613.1L1394 1614.2L1394.5 1614.1L1395 1612.8L1395.5 1612.9L1396 1616.8L1396.5 1612.8L1397 1618L1397.5 1617.6L1398 1618L1398.5 1616.9L1399 1612.6L1399.5 1612.9L1400 1613.7L1400.5 1612.7L1401 1611.7L1401.5 1615.8L1402 1615.3L1402.5 1614.1L1403 1610.8L1403.5 1613.5L1404 1612.7L1404.5 1609.5L1405 1607.9L1405.5 1607.3L1406 1608.1L1406.5 1609.8L1407 1605.1L1407.5 1606.3L1408 1605.3L1408.5 1607.6L1409 1603L1409.5 1605.1L1410 1602.7L1410.5 1603.8L1411 1604.1L1411.5 1603.5L1412 1602.8L1412.5 1599.1L1413 1598.2L1413.5 1596.6L1414 1596.6L1414.5 1595L1415 1597.8L1415.5 1593L1416 1593L1416.5 1595.4L1417 1594.5L1417.5 1594.9L1418 1590.9L1418.5 1588.3L1419 1591.8L1419.5 1588.3L1420 1590.2L1420.5 1585.2L1421 1584.5L1421.5 1586.8L1422 1586.5L1422.5 1585L1423 1584.1L1423.5 1583.8L1424 1580.6L1424.5 1579.8L1425 1581L1425.5 1581.8L1426 1580.1L1426.5 1579.9L1427 1581.8L1427.5 1582.3L1428 1582.4L1428.5 1586.9L1429 1588L1429.5 1583.9L1430 1587.1L1430.5 1586.4L1431 1587.4L1431.5 1585.8L1432 1585.6L1432.5 1584.2L1433 1583.1L1433.5 1584.1L1434 1578.8L1434.5 1581.2L1435 1578.7L1435.5 1573.9L1436 1575L1436.5 1575.7L1437 1570.9L1437.5 1574.2L1438 1575.2L1438.5 1576.3L1439 1578.4L1439.5 1579.6L1440 1584.9L1440.5 1584.2L1441 1586.7L1441.5 1590L1442 1586.5L1442.5 1585.5L1443 1587.7L1443.5 1584.2L1444 1582.2L1444.5 1578.1L1445 1578.1L1445.5 1574.2L1446 1572.7L1446.5 1569.5L1447 1565.4L1447.5 1567.8L1448 1564.8L1448.5 1564.7L1449 1559.8L1449.5 1558.8L1450 1557.7L1450.5 1559L1451 1560L1451.5 1560.6L1452 1562.7L1452.5 1564.9L1453 1570.1L1453.5 1569.9L1454 1573.9L1454.5 1571.4L1455 1573.6L1455.5 1578.9L1456 1574.3L1456.5 1574.2L1457 1576.2L1457.5 1574L1458 1572.2L1458.5 1573L1459 1571.2L1459.5 1566.9L1460 1566.8L1460.5 1564.1L1461 1564L1461.5 1557.3L1462 1555.9L1462.5 1555.7L1463 1550.5L1463.5 1553.4L1464 1552.4L1464.5 1547.2L1465 1548.7L1465.5 1544.9L1466 1548.6L1466.5 1544.3L1467 1543.7L1467.5 1545.2L1468 1549.1L1468.5 1548.6L1469 1556.2L1469.5 1556.7L1470 1559L1470.5 1562.1L1471 1563.7L1471.5 1569.1L1472 1570.8L1472.5 1571.8L1473 1573.3L1473.5 1574.6L1474 1577.2L1474.5 1578.8L1475 1578.1L1475.5 1583.1L1476 1579.2L1476.5 1580.2L1477 1576.6L1477.5 1578.2L1478 1577.3L1478.5 1572.6L1479 1575.9L1479.5 1569.5L1480 1568.1L1480.5 1568.9L1481 1564.7L1481.5 1565.9L1482 1560.5L1482.5 1559.1L1483 1559L1483.5 1557.5L1484 1555L1484.5 1548.9L1485 1547.6L1485.5 1544.2L1486 1543.3L1486.5 1538.4L1487 1540.1L1487.5 1537.8L1488 1533.6L1488.5 1534L1489 1534.3L1489.5 1538.4L1490 1536.6L1490.5 1539L1491 1542.5L1491.5 1541.4L1492 1546.9L1492.5 1545.5L1493 1546.5L1493.5 1549.7L1494 1555.9L1494.5 1556.9L1495 1562.3L1495.5 1563.2L1496 1566.7L1496.5 1567.2L1497 1570.8L1497.5 1573.4L1498 1573.3L1498.5 1575.3L1499 1578.2L1499.5 1579.3L1500 1576.5L1500.5 1575.3L1501 1580L1501.5 1578.2L1502 1581.4L1502.5 1580.6L1503 1578.7L1503.5 1581.7L1504 1580.2L1504.5 1581.4L1505 1582.5L1505.5 1580.9L1506 1583.1L1506.5 1580.1L1507 1580L1507.5 1581.4L1508 1579.6L1508.5 1580.6L1509 1578.6L1509.5 1578.5L1510 1577.5L1510.5 1574.4L1511 1574.6L1511.5 1571.9L1512 1570.3L1512.5 1563.5L1513 1561.4L1513.5 1562.8L1514 1559L1514.5 1559.7L1515 1553.8L1515.5 1552.2L1516 1545.4L1516.5 1543.5L1517 1540.9L1517.5 1536.7L1518 1530.1L1518.5 1527.7L1519 1525.6L1519.5 1522.8L1520 1523.1L1520.5 1526.4L1521 1527L1521.5 1525.5L1522 1530.1L1522.5 1534.6L1523 1534.5L1523.5 1541.1L1524 1544.7L1524.5 1549.4L1525 1549L1525.5 1558.1L1526 1562.7L1526.5 1562.6L1527 1568.7L1527.5 1569.2L1528 1575.3L1528.5 1578.6L1529 1581L1529.5 1583.2L1530 1580.9L1530.5 1580.1L1531 1583.9L1531.5 1579.5L1532 1580.6L1532.5 1580.5L1533 1583.4L1533.5 1581.5L1534 1583.6L1534.5 1582.5L1535 1583.3L1535.5 1582.9L1536 1583.3L1536.5 1579.8L1537 1580.2L1537.5 1581.6L1538 1581.3L1538.5 1582.3L1539 1582.4L1539.5 1579.6L1540 1578.7L1540.5 1582.6L1541 1582.9L1541.5 1581.5L1542 1581.4L1542.5 1582.5L1543 1585.2L1543.5 1586.8L1544 1588L1544.5 1588.7L1545 1590.9L1545.5 1593.3L1546 1593.3L1546.5 1595.2L1547 1597.6L1547.5 1600.7L1548 1601.5L1548.5 1599.4L1549 1598L1549.5 1598.6L1550 1600.4L1550.5 1598.3L1551 1598.4L1551.5 1598.3L1552 1596.7L1552.5 1596.5L1553 1590.8L1553.5 1590.4L1554 1587.2L1554.5 1588.2L1555 1586.8L1555.5 1582.9L1556 1579.9L1556.5 1580.2L1557 1576.3L1557.5 1573.7L1558 1571.5L1558.5 1571.1L1559 1563.8L1559.5 1561.6L1560 1555.4L1560.5 1551.3L1561 1545.6L1561.5 1541.9L1562 1541.6L1562.5 1535.8L1563 1530.7L1563.5 1530.5L1564 1525.3L1564.5 1517.2L1565 1514.1L1565.5 1511.1L1566 1505.6L1566.5 1504.8L1567 1502.5L1567.5 1505.3L1568 1501.6L1568.5 1508.7L1569 1506.4L1569.5 1509.9L1570 1511.7L1570.5 1520.3L1571 1523.6L1571.5 1522.7L1572 1529.1L1572.5 1531.5L1573 1535.6L1573.5 1536.5L1574 1542.6L1574.5 1540.6L1575 1546.4L1575.5 1545.4L1576 1549.8L1576.5 1550.8L1577 1553.6L1577.5 1555.8L1578 1558.8L1578.5 1558L1579 1560.6L1579.5 1568.6L1580 1567.4L1580.5 1571L1581 1573.2L1581.5 1578.4L1582 1583L1582.5 1582.4L1583 1584.2L1583.5 1586.4L1584 1586.3L1584.5 1588L1585 1588.9L1585.5 1591.5L1586 1596.2L1586.5 1592.6L1587 1595.8L1587.5 1594.9L1588 1594.9L1588.5 1600.1L1589 1597L1589.5 1597.8L1590 1602.2L1590.5 1599.7L1591 1599.9L1591.5 1604.4L1592 1600.6L1592.5 1604.3L1593 1601.6L1593.5 1603L1594 1601.3L1594.5 1600.6L1595 1602.6L1595.5 1600.9L1596 1595.1L1596.5 1596.1L1597 1590.8L1597.5 1589.5L1598 1586.2L1598.5 1587.4L1599 1586.1L1599.5 1584.8L1600 1583.9L1600.5 1581.1L1601 1579.7L1601.5 1578.9L1602 1581.7L1602.5 1584.9L1603 1582.9L1603.5 1584.6L1604 1587.2L1604.5 1587.9L1605 1588.3L1605.5 1588.6L1606 1587.8L1606.5 1591.9L1607 1591.3L1607.5 1594.1L1608 1592.6L1608.5 1597.6L1609 1594.4L1609.5 1598.8L1610 1600.1L1610.5 1596.8L1611 1601.3L1611.5 1600.6L1612 1600.8L1612.5 1599.4L1613 1600.2L1613.5 1600.1L1614 1601.6L1614.5 1603.1L1615 1603.9L1615.5 1604.1L1616 1602.5L1616.5 1602.8L1617 1605.4L1617.5 1606.9L1618 1603.1L1618.5 1604.5L1619 1604.1L1619.5 1608.1L1620 1603.3L1620.5 1608.3L1621 1608L1621.5 1606L1622 1608.2L1622.5 1606.9L1623 1608.7L1623.5 1608L1624 1611L1624.5 1609L1625 1611.4L1625.5 1610.5L1626 1609.9L1626.5 1613.4L1627 1609.7L1627.5 1613.9L1628 1614.6L1628.5 1614.2L1629 1613.2L1629.5 1613.5L1630 1615.2L1630.5 1612.7L1631 1614.8L1631.5 1613.9L1632 1612.5L1632.5 1607.4L1633 1604.8L1633.5 1597.3L1634 1592.1L1634.5 1586.8L1635 1584.6L1635.5 1576.7L1636 1574L1636.5 1563.7L1637 1559.1L1637.5 1558L1638 1550.3L1638.5 1543.6L1639 1541.2L1639.5 1532.5L1640 1531.6L1640.5 1522.7L1641 1522.2L1641.5 1516.1L1642 1515.1L1642.5 1507.4L1643 1507.6L1643.5 1500.5L1644 1498.5L1644.5 1497.3L1645 1495.2L1645.5 1495L1646 1495.2L1646.5 1493.3L1647 1493L1647.5 1499.2L1648 1500.7L1648.5 1503.1L1649 1505.8L1649.5 1511.7L1650 1511.4L1650.5 1518.8L1651 1518.2L1651.5 1525.2L1652 1530.6L1652.5 1529.8L1653 1537.1L1653.5 1537.7L1654 1539.8L1654.5 1545L1655 1549.7L1655.5 1550.5L1656 1557.7L1656.5 1555.5L1657 1560.3L1657.5 1564L1658 1567.5L1658.5 1570.3L1659 1571.8L1659.5 1575.9L1660 1579.2L1660.5 1584.3L1661 1585.5L1661.5 1590.3L1662 1591.8L1662.5 1594.1L1663 1596L1663.5 1599.2L1664 1605.4L1664.5 1605.5L1665 1607L1665.5 1608.5L1666 1613.7L1666.5 1614.2L1667 1615.3L1667.5 1617.1L1668 1615.3L1668.5 1619L1669 1616.6L1669.5 1620.8L1670 1620L1670.5 1622.7L1671 1621.3L1671.5 1622.7L1672 1625.1L1672.5 1627.1L1673 1624.5L1673.5 1624L1674 1624.1L1674.5 1627.1L1675 1628.3L1675.5 1623.6L1676 1624.6L1676.5 1622.6L1677 1625.4L1677.5 1619.5L1678 1617.4L1678.5 1619.2L1679 1618.6L1679.5 1615.5L1680 1610.3L1680.5 1610.3L1681 1609.5L1681.5 1610.5L1682 1609.1L1682.5 1604.9L1683 1606.6L1683.5 1608L1684 1606.3L1684.5 1606.7L1685 1608L1685.5 1607.8L1686 1606.8L1686.5 1605.1L1687 1603.5L1687.5 1602.4L1688 1602.3L1688.5 1604.6L1689 1605.1L1689.5 1605.4L1690 1605.5L1690.5 1601.9L1691 1601.9L1691.5 1600.9L1692 1602.5L1692.5 1604.5L1693 1603.2L1693.5 1601.3L1694 1599.6L1694.5 1603.2L1695 1603.3L1695.5 1602.5L1696 1599.7L1696.5 1600.1L1697 1600.9L1697.5 1602.5L1698 1598.6L1698.5 1599.3L1699 1597L1699.5 1596.3L1700 1597.1L1700.5 1599.7L1701 1597.2L1701.5 1592.4L1702 1587.3L1702.5 1581.4L1703 1579.7L1703.5 1574.9L1704 1570.6L1704.5 1571.9L1705 1572.3L1705.5 1565.5L1706 1569.2L1706.5 1562.8L1707 1562.9L1707.5 1565.8L1708 1565.1L1708.5 1560.1L1709 1563.1L1709.5 1562.6L1710 1562L1710.5 1565.1L1711 1565.4L1711.5 1564.5L1712 1567.6L1712.5 1570.6L1713 1571.9L1713.5 1573.4L1714 1576.4L1714.5 1575L1715 1576.3L1715.5 1578L1716 1582.9L1716.5 1583.4L1717 1587.4L1717.5 1590L1718 1587.3L1718.5 1590.8L1719 1593L1719.5 1595.8L1720 1599.8L1720.5 1600L1721 1600.3L1721.5 1603.9L1722 1603.7L1722.5 1606.2L1723 1604.8L1723.5 1608.1L1724 1608.2L1724.5 1609.3L1725 1608.8L1725.5 1608.6L1726 1609.2L1726.5 1605.6L1727 1608.4L1727.5 1607.1L1728 1606.8L1728.5 1604.5L1729 1602L1729.5 1605.7L1730 1604.4L1730.5 1604.4L1731 1600.7L1731.5 1602.2L1732 1601.3L1732.5 1598.8L1733 1599.9L1733.5 1598.8L1734 1594.3L1734.5 1593.9L1735 1594.9L1735.5 1595.2L1736 1595.6L1736.5 1595L1737 1596.7L1737.5 1597L1738 1594.5L1738.5 1597.7L1739 1602.8L1739.5 1604.5L1740 1603L1740.5 1608.6L1741 1608L1741.5 1611.7L1742 1615.4L1742.5 1611.2L1743 1615.6L1743.5 1614.2L1744 1617.2L1744.5 1616.8L1745 1612.9L1745.5 1616.2L1746 1617.6L1746.5 1614.8L1747 1617.2L1747.5 1615.1L1748 1615.1L1748.5 1616L1749 1616L1749.5 1619.9L1750 1616.4L1750.5 1617.8L1751 1618.5L1751.5 1620.1L1752 1622L1752.5 1620.7L1753 1622.5L1753.5 1619.2L1754 1622.5L1754.5 1620.5L1755 1624.7L1755.5 1623.8L1756 1621.9L1756.5 1626.2L1757 1625L1757.5 1625.2L1758 1623.6L1758.5 1628.4L1759 1626.8L1759.5 1629.1L1760 1625.6L1760.5 1629.3L1761 1628.2L1761.5 1629.6L1762 1630.6L1762.5 1632.2L1763 1633.2L1763.5 1629.8L1764 1633.9L1764.5 1630.6L1765 1630.5L1765.5 1632.4L1766 1632.7L1766.5 1635.5L1767 1634.8L1767.5 1634.2L1768 1636.5L1768.5 1637.4L1769 1636.1L1769.5 1636.2L1770 1637.3L1770.5 1634.4L1771 1638L1771.5 1633.8L1772 1633.1L1772.5 1636.9L1773 1633.6L1773.5 1634.3L1774 1635L1774.5 1632.9L1775 1634.3L1775.5 1633.8L1776 1632.2L1776.5 1634.6L1777 1633.7L1777.5 1631.9L1778 1634.9L1778.5 1632.7L1779 1630.5L1779.5 1634.5L1780 1631.8L1780.5 1629.9L1781 1630.6L1781.5 1629.9L1782 1628L1782.5 1628.5L1783 1626.4L1783.5 1625.3L1784 1626.1L1784.5 1621.7L1785 1619.1L1785.5 1617.9L1786 1616.4L1786.5 1613.6L1787 1613.6L1787.5 1612.6L1788 1609.2L1788.5 1603.7L1789 1601.5L1789.5 1597.2L1790 1591.8L1790.5 1588L1791 1580.7L1791.5 1577.9L1792 1571.5L1792.5 1567.1L1793 1561L1793.5 1550.6L1794 1548.6L1794.5 1537.4L1795 1533.5L1795.5 1528.7L1796 1524.5L1796.5 1514L1797 1511.7L1797.5 1504.1L1798 1496.9L1798.5 1494.2L1799 1492.5L1799.5 1486.5L1800 1489.2L1800.5 1482.2L1801 1481.6L1801.5 1480.4L1802 1477.1L1802.5 1481.1L1803 1480L1803.5 1478.5L1804 1473.1L1804.5 1476.3L1805 1472.7L1805.5 1472.1L1806 1474.5L1806.5 1471.1L1807 1471.6L1807.5 1478.8L1808 1477.1L1808.5 1482.1L1809 1482.4L1809.5 1483.3L1810 1488.8L1810.5 1490.3L1811 1493.3L1811.5 1496.5L1812 1502.6L1812.5 1505.4L1813 1509.5L1813.5 1517L1814 1520.5L1814.5 1524.6L1815 1527.2L1815.5 1535.8L1816 1541.2L1816.5 1545.7L1817 1549.3L1817.5 1554L1818 1559.3L1818.5 1562.3L1819 1569.3L1819.5 1570.4L1820 1574.9L1820.5 1579.3L1821 1580.8L1821.5 1581.2L1822 1585L1822.5 1591.1L1823 1589.1L1823.5 1592.9L1824 1597.8L1824.5 1601.8L1825 1604.5L1825.5 1606.8L1826 1609.4L1826.5 1610.4L1827 1611.4L1827.5 1617L1828 1616.6L1828.5 1622.8L1829 1621.6L1829.5 1623.1L1830 1630.1L1830.5 1627.6L1831 1631.5L1831.5 1630.6L1832 1637.1L1832.5 1634L1833 1639.2L1833.5 1641.6L1834 1640.5L1834.5 1640.6L1835 1642.1L1835.5 1643.5L1836 1647.9L1836.5 1647.7L1837 1650.1L1837.5 1649.2L1838 1649.2L1838.5 1647.2L1839 1647.2L1839.5 1650.7L1840 1650.3L1840.5 1647.5L1841 1648.9L1841.5 1648.1L1842 1645.5L1842.5 1644.6L1843 1646.7L1843.5 1647.2L1844 1646.7L1844.5 1642.9L1845 1640.8L1845.5 1641.4L1846 1639.5L1846.5 1643.3L1847 1639.2L1847.5 1641.2L1848 1637.5L1848.5 1640.3L1849 1637.3L1849.5 1638.3L1850 1636.5L1850.5 1636.7L1851 1632.6L1851.5 1632L1852 1632.6L1852.5 1634.6L1853 1634L1853.5 1632.2L1854 1630.9L1854.5 1627.3L1855 1631L1855.5 1628.8L1856 1627.8L1856.5 1628.2L1857 1624.2L1857.5 1625.4L1858 1625L1858.5 1624.6L1859 1620.4L1859.5 1622.9L1860 1623.1L1860.5 1620.9L1861 1617.8L1861.5 1621.1L1862 1616.1L1862.5 1616L1863 1618.5L1863.5 1616.3L1864 1614.2L1864.5 1615.8L1865 1614.2L1865.5 1610.6L1866 1610.4L1866.5 1612.7L1867 1612L1867.5 1607.4L1868 1609.2L1868.5 1609.7L1869 1607.1L1869.5 1605.3L1870 1606.9L1870.5 1609.5L1871 1608.3L1871.5 1605.5L1872 1609L1872.5 1608.4L1873 1606.8L1873.5 1607.2L1874 1607.4L1874.5 1609.3L1875 1609.9L1875.5 1610.5L1876 1614.5L1876.5 1614.9L1877 1614.5L1877.5 1618L1878 1617.6L1878.5 1620L1879 1620.3L1879.5 1620.3L1880 1621.5L1880.5 1622.7L1881 1623.4L1881.5 1624.6L1882 1622.4L1882.5 1622.9L1883 1622.6L1883.5 1626.2L1884 1626.1L1884.5 1623.5L1885 1623.1L1885.5 1621.4L1886 1625.4L1886.5 1623.4L1887 1624.4L1887.5 1621.9L1888 1619.8L1888.5 1619.1L1889 1617.6L1889.5 1615L1890 1609.8L1890.5 1608.2L1891 1608.3L1891.5 1604L1892 1604.2L1892.5 1601.6L1893 1602.2L1893.5 1597L1894 1595.6L1894.5 1595.1L1895 1596.1L1895.5 1594.9L1896 1597.4L1896.5 1597L1897 1591.7L1897.5 1595.2L1898 1593.1L1898.5 1594.9L1899 1592.5L1899.5 1595.2L1900 1591.8L1900.5 1595.4L1901 1595.9L1901.5 1596.9L1902 1598.8L1902.5 1601.2L1903 1603.4L1903.5 1605.4L1904 1608.4L1904.5 1610.7L1905 1613.2L1905.5 1613.3L1906 1612.6L1906.5 1615.7L1907 1616.1L1907.5 1616L1908 1617.2L1908.5 1617.2L1909 1619.4L1909.5 1617.5L1910 1620.5L1910.5 1620.3L1911 1618.6L1911.5 1620.5L1912 1624.5L1912.5 1622.9L1913 1620.6L1913.5 1623.6L1914 1624.6L1914.5 1622L1915 1623.7L1915.5 1623.1L1916 1625.1L1916.5 1626.8L1917 1624.1L1917.5 1623.8L1918 1624.1L1918.5 1626.8L1919 1624.3L1919.5 1626.9L1920 1628.6L1920.5 1628.5L1921 1628.2L1921.5 1625L1922 1627.3L1922.5 1626.5L1923 1628.1L1923.5 1626.4L1924 1626.5L1924.5 1630.8L1925 1630.6L1925.5 1626.8L1926 1630.8L1926.5 1627.1L1927 1628.8L1927.5 1632.4L1928 1632.4L1928.5 1630.4L1929 1632.2L1929.5 1631.3L1930 1634.4L1930.5 1632.5L1931 1632.8L1931.5 1633.1L1932 1636.2L1932.5 1636.3L1933 1638.3L1933.5 1634.5L1934 1637.8L1934.5 1638.5L1935 1637.5L1935.5 1634.2L1936 1634.4L1936.5 1634L1937 1635.1L1937.5 1637.1L1938 1633.9L1938.5 1635.3L1939 1633.1L1939.5 1636.2L1940 1633.1L1940.5 1636.4L1941 1635.3L1941.5 1632.9L1942 1635.2L1942.5 1633.2L1943 1633.8L1943.5 1633.7L1944 1631.9L1944.5 1632.4L1945 1633.9L1945.5 1633.5L1946 1632.1L1946.5 1628.8L1947 1628.2L1947.5 1622L1948 1623.7L1948.5 1616.1L1949 1617.8L1949.5 1614.6L1950 1609.7L1950.5 1608.7L1951 1606.1L1951.5 1598.2L1952 1597.1L1952.5 1589.9L1953 1590.1L1953.5 1583.5L1954 1584.1L1954.5 1578.1L1955 1577.8L1955.5 1578L1956 1572.4L1956.5 1573.8L1957 1568.7L1957.5 1564.8L1958 1567L1958.5 1560.6L1959 1561.4L1959.5 1561.9L1960 1560.7L1960.5 1557.5L1961 1554.9L1961.5 1556.3L1962 1555.2L1962.5 1555.6L1963 1556.2L1963.5 1556.3L1964 1556.3L1964.5 1561.4L1965 1558.5L1965.5 1563.1L1966 1563.4L1966.5 1566.6L1967 1567.9L1967.5 1569L1968 1572.5L1968.5 1573.2L1969 1576.8L1969.5 1576.8L1970 1580.3L1970.5 1581.9L1971 1582.7L1971.5 1582.2L1972 1584.9L1972.5 1584.5L1973 1590.1L1973.5 1591.8L1974 1594.8L1974.5 1592.9L1975 1595.2L1975.5 1600L1976 1602.4L1976.5 1600.6L1977 1602L1977.5 1605L1978 1606.4L1978.5 1606.2L1979 1607.7L1979.5 1609.4L1980 1609.6L1980.5 1611.4L1981 1611.8L1981.5 1614.7L1982 1617.7L1982.5 1618.2L1983 1618.9L1983.5 1619.1L1984 1618.6L1984.5 1618.9L1985 1620.6L1985.5 1625.5L1986 1625.9L1986.5 1625.7L1987 1627.1L1987.5 1629L1988 1630.5L1988.5 1628.7L1989 1632.7L1989.5 1633.1L1990 1632.3L1990.5 1633.3L1991 1633.7L1991.5 1636.4L1992 1639.3L1992.5 1639L1993 1636.4L1993.5 1636.5L1994 1637.5L1994.5 1636.9L1995 1636.7L1995.5 1639.5L1996 1637.1L1996.5 1638L1997 1636.4L1997.5 1639.3L1998 1636.8L1998.5 1633.9L1999 1636.5L1999.5 1633.3L2000 1633.5L2000.5 1631.9L2001 1632.2L2001.5 1630.5L2002 1629.9L2002.5 1628.3L2003 1631.7L2003.5 1627.1L2004 1626.8L2004.5 1626.8L2005 1624.7L2005.5 1624.7L2006 1625.1L2006.5 1625.6L2007 1624.9L2007.5 1623.7L2008 1625.1L2008.5 1625.3L2009 1622.8L2009.5 1622.7L2010 1624.9L2010.5 1624.1L2011 1626.7L2011.5 1623L2012 1626.4L2012.5 1626.1L2013 1626.1L2013.5 1630.3L2014 1627.8L2014.5 1631.5L2015 1632.7L2015.5 1634.1L2016 1630.6L2016.5 1631.6L2017 1632L2017.5 1633.9L2018 1637.5L2018.5 1636.7L2019 1634.7L2019.5 1634.8L2020 1638.3L2020.5 1637.7L2021 1634.5L2021.5 1637.3L2022 1634.9L2022.5 1634.8L2023 1633.2L2023.5 1636.9L2024 1633.3L2024.5 1633.2L2025 1630L2025.5 1629.8L2026 1630.1L2026.5 1629.4L2027 1629.1L2027.5 1624.6L2028 1623.4L2028.5 1623.1L2029 1621.6L2029.5 1623.3L2030 1620.1L2030.5 1619.2L2031 1618.9L2031.5 1618.2L2032 1616L2032.5 1613.1L2033 1615.8L2033.5 1611.4L2034 1614.2L2034.5 1609.8L2035 1608.7L2035.5 1609.1L2036 1610L2036.5 1606.1L2037 1605.6L2037.5 1604.2L2038 1601.6L2038.5 1601.7L2039 1604.3L2039.5 1603.7L2040 1599.3L2040.5 1602.4L2041 1597L2041.5 1600.5L2042 1596.5L2042.5 1598.5L2043 1598.5L2043.5 1598.9L2044 1602.1L2044.5 1599.6L2045 1598.7L2045.5 1600.2L2046 1604.9L2046.5 1602.8L2047 1603.8L2047.5 1605.9L2048 1611.5L2048.5 1610.1L2049 1610L2049.5 1614L2050 1613.9L2050.5 1616L2051 1619.4L2051.5 1618.8L2052 1618.9L2052.5 1622.2L2053 1620.5L2053.5 1621L2054 1624L2054.5 1625.4L2055 1624.9L2055.5 1623.9L2056 1624.9L2056.5 1623.6L2057 1625.6L2057.5 1629.1L2058 1628.3L2058.5 1630.9L2059 1630.5L2059.5 1630.6L2060 1632.4L2060.5 1631.4L2061 1632.8L2061.5 1632.4L2062 1632.2L2062.5 1634.8L2063 1631.8L2063.5 1636.9L2064 1637.3L2064.5 1637.1L2065 1635.8L2065.5 1636.2L2066 1636.4L2066.5 1637.1L2067 1636.3L2067.5 1639.6L2068 1640.4L2068.5 1638.8L2069 1640.9L2069.5 1638.4L2070 1641.4L2070.5 1642.2L2071 1640.9L2071.5 1642.4L2072 1641.3L2072.5 1641.2L2073 1640L2073.5 1637.6L2074 1637.6L2074.5 1640.6L2075 1636.8L2075.5 1638.6L2076 1635.2L2076.5 1637.4L2077 1637.5L2077.5 1634.9L2078 1631.1L2078.5 1633.7L2079 1631.5L2079.5 1632.6L2080 1628.1L2080.5 1628L2081 1630.6L2081.5 1629.5L2082 1629.1L2082.5 1626.2L2083 1626.2L2083.5 1626.6L2084 1624.3L2084.5 1620.4L2085 1619.9L2085.5 1618.2L2086 1618L2086.5 1616.8L2087 1617.9L2087.5 1618.5L2088 1619.2L2088.5 1616.4L2089 1614.7L2089.5 1618.5L2090 1618.4L2090.5 1618.8L2091 1614.1L2091.5 1617.5L2092 1618.4L2092.5 1618.7L2093 1617.8L2093.5 1622.7L2094 1621.8L2094.5 1620.3L2095 1623.1L2095.5 1626.3L2096 1624.7L2096.5 1628.8L2097 1626.9L2097.5 1629L2098 1629.1L2098.5 1629L2099 1633.4L2099.5 1630.9L2100 1633.3L2100.5 1634.3L2101 1631.4L2101.5 1630.3L2102 1633.2L2102.5 1631.9L2103 1635.4L2103.5 1632L2104 1635L2104.5 1631.6L2105 1633.1L2105.5 1632.8L2106 1636.3L2106.5 1635.1L2107 1635.5L2107.5 1632.6L2108 1633.8L2108.5 1636.8L2109 1635.4L2109.5 1636L2110 1634.4L2110.5 1632.6L2111 1635.9L2111.5 1632.1L2112 1631.1L2112.5 1633L2113 1629.6L2113.5 1632.5L2114 1631.6L2114.5 1629.4L2115 1629.5L2115.5 1628.8L2116 1626.2L2116.5 1625.8L2117 1626.8L2117.5 1624.8L2118 1625.5L2118.5 1626.3L2119 1627.7L2119.5 1627.2L2120 1625.6L2120.5 1628.8L2121 1629.2L2121.5 1628.9L2122 1629.4L2122.5 1627.5L2123 1631L2123.5 1630.2L2124 1628.6L2124.5 1631.7L2125 1631.9L2125.5 1632.2L2126 1632.2L2126.5 1634.3L2127 1634.7L2127.5 1634.5L2128 1632.4L2128.5 1633.7L2129 1638L2129.5 1635.5L2130 1637.1L2130.5 1634.9L2131 1637.5L2131.5 1637.9L2132 1638.9L2132.5 1640.1L2133 1637.7L2133.5 1637L2134 1636L2134.5 1636.4L2135 1636.2L2135.5 1638L2136 1634.7L2136.5 1634.5L2137 1633.8L2137.5 1629.2L2138 1629.4L2138.5 1630.3L2139 1627.4L2139.5 1627.6L2140 1630.7L2140.5 1630.3L2141 1627.7L2141.5 1627.7L2142 1631.6L2142.5 1629.8L2143 1629.2L2143.5 1631.5L2144 1631.5L2144.5 1633.4L2145 1629.2L2145.5 1632.9L2146 1631.7L2146.5 1630.9L2147 1632.6L2147.5 1630.5L2148 1631.4L2148.5 1631.7L2149 1635.1L2149.5 1635.6L2150 1633.7L2150.5 1634.4L2151 1637.2L2151.5 1635.6L2152 1635.9L2152.5 1639.3L2153 1637.7L2153.5 1638.1L2154 1638.8L2154.5 1636.3L2155 1638.5L2155.5 1640.8L2156 1640.5L2156.5 1642L2157 1639.4L2157.5 1640.6L2158 1639.6L2158.5 1639.6L2159 1639.4L2159.5 1640.2L2160 1640.3L2160.5 1641.9L2161 1642L2161.5 1644L2162 1644.2L2162.5 1643.3L2163 1644.1L2163.5 1643.4L2164 1642.8L2164.5 1644L2165 1644.8L2165.5 1646.6L2166 1646.1L2166.5 1642.7L2167 1645.7L2167.5 1643.2L2168 1646L2168.5 1647.3L2169 1646.8L2169.5 1644.2L2170 1645.9L2170.5 1645L2171 1647.5L2171.5 1648L2172 1648.3L2172.5 1646.7L2173 1648.1L2173.5 1646.4L2174 1650.2L2174.5 1650.5L2175 1646.3L2175.5 1649.1L2176 1650.2L2176.5 1648L2177 1647.3L2177.5 1647.4L2178 1651.1L2178.5 1648L2179 1650.1L2179.5 1652.4L2180 1649L2180.5 1652.4L2181 1651.4L2181.5 1651.5L2182 1652.2L2182.5 1651.8L2183 1654.5L2183.5 1653.9L2184 1652.8L2184.5 1651.8L2185 1653.9L2185.5 1656.5L2186 1656.3L2186.5 1652.6L2187 1654.3L2187.5 1655.1L2188 1655L2188.5 1653.9L2189 1654.5L2189.5 1656.4L2190 1657.6L2190.5 1657.8L2191 1657.9L2191.5 1658.2L2192 1655.3L2192.5 1656.6L2193 1657.4L2193.5 1657.3L2194 1658.2L2194.5 1658.6L2195 1658.6L2195.5 1657.3L2196 1661.6L2196.5 1662.3L2197 1660.9L2197.5 1659.6L2198 1660.7L2198.5 1663.1L2199 1661.8L2199.5 1662.5L2200 1662.7L2200.5 1664.3L2201 1662.9L2201.5 1660.6L2202 1662.6L2202.5 1664.7L2203 1661.2L2203.5 1661.1L2204 1661.2L2204.5 1661.5L2205 1662.2L2205.5 1665.1L2206 1664.5L2206.5 1665.3L2207 1664.7L2207.5 1664L2208 1666L2208.5 1663.5L2209 1664.5L2209.5 1664.9L2210 1666.2L2210.5 1666.7L2211 1666L2211.5 1666.3L2212 1665.1L2212.5 1666.5L2213 1667.7L2213.5 1666.2L2214 1667.5L2214.5 1666.6L2215 1666.7L2215.5 1667.2L2216 1665.4L2216.5 1665.8L2217 1665.6L2217.5 1667.1L2218 1667.7L2218.5 1667.8L2219 1665.8L2219.5 1666.3L2220 1665.5L2220.5 1667.5L2221 1666.4L2221.5 1665.7L2222 1665.4L2222.5 1668.2L2223 1666.1L2223.5 1668.1L2224 1665.1L2224.5 1664.5L2225 1666.4L2225.5 1667L2226 1663.6L2226.5 1666.4L2227 1664.9L2227.5 1666.1L2228 1666.1L2228.5 1663.5L2229 1665.6L2229.5 1661.8L2230 1662.8L2230.5 1662.5L2231 1661.3L2231.5 1662.2L2232 1663.1L2232.5 1659.8L2233 1661.2L2233.5 1661.1L2234 1659.2L2234.5 1660.9L2235 1658.7L2235.5 1659.8L2236 1659.3L2236.5 1659.7L2237 1660.2L2237.5 1659.7L2238 1657.2L2238.5 1655.6L2239 1655L2239.5 1657.1L2240 1656.4L2240.5 1656.1L2241 1655.8L2241.5 1653.9L2242 1655L2242.5 1653.3L2243 1652.5L2243.5 1652.9L2244 1651.3L2244.5 1651.2L2245 1651.3L2245.5 1647.9L2246 1648.9L2246.5 1646L2247 1646.1L2247.5 1647.3L2248 1647L2248.5 1646.2L2249 1644.5L2249.5 1644.2L2250 1643.7L2250.5 1641.7L2251 1639.2L2251.5 1637.4L2252 1640.4L2252.5 1639.7L2253 1638.8L2253.5 1637.2L2254 1636.7L2254.5 1636.1L2255 1634.1L2255.5 1633.7L2256 1630.3L2256.5 1630.7L2257 1629.8L2257.5 1628.1L2258 1624.9L2258.5 1622.6L2259 1623.5L2259.5 1618.7L2260 1620.3L2260.5 1614.9L2261 1615.8L2261.5 1611.2L2262 1611.6L2262.5 1605.4L2263 1602.1L2263.5 1601.7L2264 1598.9L2264.5 1593L2265 1589.8L2265.5 1586.8L2266 1580.2L2266.5 1575.8L2267 1571.6L2267.5 1564.7L2268 1558.1L2268.5 1556.2L2269 1544.3L2269.5 1541.9L2270 1534.3L2270.5 1526.9L2271 1525.8L2271.5 1518.1L2272 1518.3L2272.5 1514L2273 1509.8L2273.5 1508.1L2274 1497L2274.5 1496.5L2275 1487.4L2275.5 1487.8L2276 1482.1L2276.5 1480.5L2277 1480.2L2277.5 1477L2278 1470.9L2278.5 1471.1L2279 1471.9L2279.5 1474L2280 1471L2280.5 1478.5L2281 1480.8L2281.5 1484.3L2282 1482.4L2282.5 1485.3L2283 1491.6L2283.5 1491.9L2284 1492.5L2284.5 1493.4L2285 1496.9L2285.5 1502.1L2286 1504.9L2286.5 1505L2287 1511L2287.5 1511.1L2288 1513.9L2288.5 1516.1L2289 1519.1L2289.5 1522L2290 1528.1L2290.5 1529L2291 1531L2291.5 1535.4L2292 1541.4L2292.5 1542.7L2293 1542.4L2293.5 1546.9L2294 1549.8L2294.5 1549.8L2295 1557.8L2295.5 1560L2296 1557.7L2296.5 1562.7L2297 1563.8L2297.5 1565.6L2298 1568.4L2298.5 1569.5L2299 1575.6L2299.5 1576.2L2300 1580.5L2300.5 1583.6L2301 1584.7L2301.5 1585.8L2302 1587.1L2302.5 1592.4L2303 1594.9L2303.5 1597.9L2304 1596.8L2304.5 1598.7L2305 1605.6L2305.5 1606.4L2306 1606.1L2306.5 1611.7L2307 1610.7L2307.5 1616.1L2308 1618.1L2308.5 1621.3L2309 1620.5L2309.5 1627L2310 1629.5L2310.5 1631.9L2311 1633L2311.5 1632.9L2312 1638.3L2312.5 1638.5L2313 1641.1L2313.5 1643L2314 1642.8L2314.5 1647.9L2315 1648.8L2315.5 1648.3L2316 1650.5L2316.5 1650.5L2317 1652.9L2317.5 1656.6L2318 1654.6L2318.5 1655.5L2319 1658.2L2319.5 1655.5L2320 1656.3L2320.5 1659.7L2321 1657.3L2321.5 1659.9L2322 1661.2L2322.5 1660.4L2323 1658.5L2323.5 1659.4L2324 1661.3L2324.5 1663.5L2325 1662.3L2325.5 1662.8L2326 1662.5L2326.5 1661.4L2327 1662.9L2327.5 1660.2L2328 1662.1L2328.5 1663.9L2329 1661.1L2329.5 1663.2L2330 1663.5L2330.5 1660.8L2331 1664.1L2331.5 1661.2L2332 1664.5L2332.5 1661.6L2333 1662.8L2333.5 1664.3L2334 1663.6L2334.5 1662L2335 1660.6L2335.5 1662.5L2336 1662.3L2336.5 1659.7L2337 1661.1L2337.5 1663.6L2338 1661.6L2338.5 1659.9L2339 1662L2339.5 1661L2340 1663.1L2340.5 1661L2341 1658.7L2341.5 1659.2L2342 1659.2L2342.5 1662.7L2343 1659.9L2343.5 1659.7L2344 1662.5L2344.5 1658.8L2345 1660.7L2345.5 1662.1L2346 1661.8L2346.5 1658.2L2347 1659.5L2347.5 1658.4L2348 1660.4L2348.5 1658.2L2349 1657.8L2349.5 1658.1L2350 1657.3L2350.5 1660L2351 1657.8L2351.5 1658.3L2352 1657.6L2352.5 1658L2353 1657.5L2353.5 1657.7L2354 1659.2L2354.5 1656.6L2355 1658.9L2355.5 1657.1L2356 1655.8L2356.5 1655.8L2357 1659.4L2357.5 1655.2L2358 1656.2L2358.5 1658.9L2359 1655L2359.5 1655.5L2360 1655.7L2360.5 1658.2L2361 1654.7L2361.5 1658.5L2362 1654.5L2362.5 1656.5L2363 1657.4L2363.5 1656.3L2364 1655.9L2364.5 1655.5L2365 1654.5L2365.5 1657.9L2366 1655L2366.5 1656.1L2367 1655.7L2367.5 1657.4L2368 1653.9L2368.5 1653.4L2369 1656.9L2369.5 1654.9L2370 1655.5L2370.5 1655.3L2371 1656L2371.5 1656.1L2372 1655.4L2372.5 1652L2373 1655.9L2373.5 1652L2374 1655.8L2374.5 1651.7L2375 1655.3L2375.5 1654.6L2376 1651.5L2376.5 1655L2377 1654L2377.5 1651.8L2378 1655.3L2378.5 1653.9L2379 1653.2L2379.5 1655.5L2380 1651.8L2380.5 1651.6L2381 1655L2381.5 1651.4L2382 1654.5"/>
<path stroke="#ff0000" d="M373 1675.9L373.5 1670.9L374 1666.1L374.5 1661.8L375 1658L375.5 1655L376 1652.4L376.5 1649.7L377 1647.3L377.5 1645.1L378 1643.3L378.5 1641.9L379 1641.1L379.5 1641.1L380 1641.7L380.5 1642.9L381 1644.5L381.5 1646.4L382 1648.4L382.5 1650.3L383 1652L383.5 1653.7L384 1655.7L384.5 1657.7L385 1659.6L385.5 1661.2L386 1662.3L386.5 1662.7L387 1663.1L387.5 1663.4L388 1663.6L388.5 1663.9L389 1664.1L389.5 1664.3L390 1664.5L390.5 1664.6L391 1664.8L391.5 1664.9L392 1665L392.5 1665.2L393 1665.3L393.5 1665.4L394 1665.4L394.5 1665.5L395 1665.6L395.5 1665.7L396 1665.8L396.5 1665.9L397 1665.9L397.5 1666L398 1666.1L398.5 1666.2L399 1666.2L399.5 1666.3L400 1666.4L400.5 1666.4L401 1666.4L401.5 1666.5L402 1666.5L402.5 1666.5L403 1666.4L403.5 1666L404 1665.5L404.5 1664.9L405 1664.2L405.5 1663.6L406 1663L406.5 1662.4L407 1661.8L407.5 1661.1L408 1660.4L408.5 1659.8L409 1659.3L409.5 1658.9L410 1658.7L410.5 1658.7L411 1658.9L411.5 1659.1L412 1659.4L412.5 1659.8L413 1660.3L413.5 1660.7L414 1661.2L414.5 1661.6L415 1662L415.5 1662.4L416 1662.8L416.5 1663.2L417 1663.7L417.5 1664.2L418 1664.7L418.5 1665.2L419 1665.7L419.5 1666.2L420 1666.7L420.5 1667.2L421 1667.6L421.5 1668L422 1668.4L422.5 1668.7L423 1669L423.5 1669.2L424 1669.4L424.5 1669.5L425 1669.5L425.5 1669.4L426 1669.2L426.5 1668.8L427 1668.4L427.5 1667.9L428 1667.3L428.5 1666.7L429 1666.2L429.5 1665.6L430 1665L430.5 1664.5L431 1664.1L431.5 1663.7L432 1663.5L432.5 1663.4L433 1663.4L433.5 1663.6L434 1663.8L434.5 1664.2L435 1664.6L435.5 1665L436 1665.5L436.5 1666.1L437 1666.6L437.5 1667.2L438 1667.8L438.5 1668.3L439 1668.9L439.5 1669.3L440 1669.8L440.5 1670.1L441 1670.4L441.5 1670.5L442 1670.6L442.5 1670.6L443 1670.7L443.5 1670.7L444 1670.7L444.5 1670.7L445 1670.7L445.5 1670.7L446 1670.7L446.5 1670.7L447 1670.8L447.5 1670.8L448 1670.8L448.5 1670.8L449 1670.8L449.5 1670.8L450 1670.8L450.5 1670.8L451 1670.8L451.5 1670.8L452 1670.8L452.5 1670.8L453 1670.8L453.5 1670.8L454 1670.8L454.5 1670.8L455 1670.8L455.5 1670.8L456 1670.8L456.5 1670.8L457 1670.8L457.5 1670.8L458 1670.8L458.5 1670.8L459 1670.8L459.5 1670.8L460 1670.7L460.5 1670.7L461 1670.6L461.5 1670.5L462 1670.4L462.5 1670.1L463 1669.7L463.5 1669L464 1667.8L464.5 1666L465 1663.5L465.5 1660.1L466 1656.1L466.5 1651.6L467 1647.2L467.5 1643.7L468 1641.9L468.2 1641.7L468.5 1642.1L469 1644.4L469.5 1648.1L470 1652.6L470.5 1657L471 1661L471.5 1664.2L472 1666.6L472.5 1668.2L473 1669.3L473.5 1669.9L474 1670.1L474.5 1670.2L475 1669.9L475.5 1669.3L476 1668.3L476.5 1666.7L477 1664.3L477.5 1661.1L478 1657.3L478.5 1653L479 1648.9L479.5 1645.6L480 1643.9L480.2 1643.7L480.5 1644.1L481 1646.3L481.5 1649.9L482 1654.2L482.5 1658.4L483 1662.2L483.5 1665.3L484 1667.6L484.5 1669.2L485 1670.3L485.5 1670.9L486 1671.2L486.5 1671.4L487 1671.5L487.5 1671.5L488 1671.5L488.5 1671.4L489 1671.2L489.5 1670.9L490 1670.4L490.5 1669.4L491 1666.3L491.5 1654.6L492 1622.2L492.5 1573.5L492.9 1553.3L493 1554.7L493.5 1593L494 1638.3L494.5 1661.2L495 1668.2L495.5 1670.1L496 1670.9L496.5 1671.3L497 1671.6L497.5 1671.8L498 1671.9L498.5 1672L499 1672.1L499.5 1672.1L500 1672.1L500.5 1672L501 1672L501.5 1671.9L502 1671.7L502.5 1671.6L503 1671.4L503.5 1671.1L504 1670.8L504.5 1670.4L505 1669.8L505.5 1668.8L506 1667.1L506.5 1663.5L507 1656.2L507.5 1642.3L508 1619.6L508.5 1588.1L509 1552.9L509.5 1524.9L509.9 1516.6L510 1517.1L510.5 1534.3L511 1566.8L511.5 1601.4L512 1629.6L512.5 1648.6L513 1659.4L513.5 1664.9L514 1667.5L514.5 1668.8L515 1669.4L515.5 1669.7L516 1669.7L516.5 1669.4L517 1668.6L517.5 1667.1L518 1664.8L518.5 1661.6L519 1657.9L519.5 1654L520 1650.7L520.5 1648.9L520.7 1648.7L521 1649.1L521.5 1651.2L522 1654.6L522.5 1658.4L523 1662L523.5 1664.9L524 1666.9L524.5 1668.2L525 1668.8L525.5 1669L526 1668.8L526.5 1668.4L527 1667.7L527.5 1666.7L528 1665.2L528.5 1662.6L529 1657.5L529.5 1647.4L530 1628.2L530.5 1595.7L531 1547.5L531.5 1487.1L532 1425.9L532.5 1383.4L532.8 1375.5L533 1379L533.5 1415.2L534 1474.4L534.5 1536.2L535 1587.3L535.5 1622.9L536 1644.4L536.5 1656L537 1661.8L537.5 1664.8L538 1666.5L538.5 1667.6L539 1668.3L539.5 1668.9L540 1669.4L540.5 1669.7L541 1670L541.5 1670.1L542 1670.3L542.5 1670.3L543 1670.3L543.5 1670.2L544 1670L544.5 1669.6L545 1668.7L545.5 1665.7L546 1654.8L546.5 1627.6L547 1592.6L547.3 1583.8L547.5 1587.8L548 1620.2L548.5 1650.5L549 1664L549.5 1667.8L550 1668.8L550.5 1669.1L551 1669.2L551.5 1669.1L552 1669L552.5 1668.8L553 1668.5L553.5 1668.1L554 1667.6L554.5 1667.1L555 1666.5L555.5 1665.7L556 1664.7L556.5 1663.6L557 1662.1L557.5 1660L558 1657L558.5 1652.1L559 1643.9L559.5 1630.4L560 1608.5L560.5 1574.9L561 1526.9L561.5 1463.4L562 1386.8L562.5 1304L563 1226.3L563.5 1169.3L564 1148L564.5 1169.2L565 1226.2L565.5 1303.8L566 1386.6L566.5 1463.1L567 1526.5L567.5 1574.4L568 1607.9L568.5 1629.7L569 1643L569.5 1650.9L570 1655.4L570.5 1657.8L571 1658.9L571.5 1659L572 1658.3L572.5 1657L573 1655L573.5 1652.6L574 1650.1L574.5 1647.9L575 1646.4L575.5 1646L576 1646.8L576.5 1648.6L577 1651.2L577.5 1654.1L578 1656.8L578.5 1659.2L579 1661L579.5 1662.1L580 1662.4L580.5 1661.6L581 1658.7L581.5 1651.9L582 1637.5L582.5 1610.6L583 1567.6L583.5 1510.3L584 1449.4L584.5 1405.7L584.8 1397.5L585 1401.2L585.5 1438.6L586 1498L586.5 1557.4L587 1603.8L587.5 1633.9L588 1650.6L588.5 1659L589 1662.9L589.5 1664.8L590 1665.8L590.5 1666.2L591 1666.1L591.5 1665.5L592 1664.3L592.5 1662.3L593 1659.5L593.5 1655.8L594 1651.5L594.5 1646.7L595 1642.1L595.5 1638.1L596 1635.5L596.4 1634.8L596.5 1634.8L597 1636.2L597.5 1639.2L598 1643.4L598.5 1648L599 1652.5L599.5 1656.4L600 1659.6L600.5 1661.9L601 1663.4L601.5 1664.3L602 1664.5L602.5 1664.4L603 1663.9L603.5 1663L604 1661.9L604.5 1660.5L605 1658.8L605.5 1656.5L606 1653.4L606.5 1648.8L607 1641.1L607.5 1627.1L608 1600.7L608.5 1553.1L609 1473.6L609.5 1354.6L610 1197.6L610.5 1020.5L611 859.5L611.5 764.7L611.7 755.5L612 775.9L612.5 888.1L613 1056.1L613.5 1231.5L614 1381.7L614.5 1492.6L615 1565L615.5 1607.5L616 1630.8L616.5 1643.2L617 1650.1L617.5 1654.3L618 1657.3L618.5 1659.5L619 1661.2L619.5 1662.7L620 1663.8L620.5 1664.8L621 1665.6L621.5 1666.3L622 1666.8L622.5 1667.3L623 1667.7L623.5 1668L624 1668.2L624.5 1668.3L625 1668.4L625.5 1668.3L626 1668.2L626.5 1667.9L627 1667.3L627.5 1666.2L628 1664.1L628.5 1660.2L629 1653.5L629.5 1642.7L630 1627L630.5 1606L631 1581.3L631.5 1555.8L632 1534.4L632.5 1522.4L632.7 1521.2L633 1523.7L633.5 1520.5L634 1558.1L634.5 1585.8L635 1609.8L635.5 1629.5L636 1557.4L636.5 1519.1L637 1557.3L637.5 1633.8L638 1663.6L638.5 1633.8L639 1557.2L639.5 1519L640 1557.2L640.5 1633.8L641 1652.5L641.5 1633.8L642 1557.3L642.5 1519L643 1513.9L643.5 1426.4L644 1328L644.5 1245.1L645 1211.5L645.5 1245.1L646 1328.1L646.5 1426.5L647 1514.1L647.5 1578.5L648 1557.8L648.5 1520L649 1558.2L649.5 1634.1L650 1661.5L650.5 1634.2L651 1558.7L651.5 1521L652 1558.7L652.5 1634L653 1665.4L653.5 1632.3L654 1549.5L654.5 1504.1L655 1543L655.5 1628L656 1611.4L656.5 1577.3L657 1528.8L657.5 1477.2L658 1475.2L658.2 1473L658.5 1478.1L659 1505.6L659.5 1545.5L660 1556L660.5 1548.9L661 1606.7L661.5 1654.1L662 1661.5L662.5 1665.3L663 1667.3L663.5 1668.3L664 1669L664.5 1669.4L665 1669.6L665.5 1669.6L666 1669.4L666.5 1668.5L667 1665.5L667.5 1657.4L668 1641.1L668.5 1617.6L669 1597L669.3 1592.7L669.5 1594.6L670 1612.7L670.5 1636.6L671 1654.7L671.5 1664.1L672 1667.7L672.5 1668.4L673 1667.2L673.5 1663.1L674 1654.6L674.5 1642.4L675 1631.6L675.3 1629.3L675.5 1630.2L676 1639.5L676.5 1651.8L677 1660.9L677.5 1665.6L678 1667.3L678.5 1667.5L679 1667.3L679.5 1666.9L680 1666.3L680.5 1665.6L681 1664.8L681.5 1663.8L682 1662.6L682.5 1661.2L683 1659.5L683.5 1657.5L684 1655L684.5 1651.8L685 1647.6L685.5 1641.4L686 1631.3L686.5 1613.1L687 1579.3L687.5 1518.4L688 1416.6L688.5 1262.8L689 1057.3L689.5 819.9L690 594.3L690.5 444.7L690.8 417.5L691 429.7L691.5 556.1L692 771.9L692.5 1011.3L693 1225.5L693.5 1390.1L694 1501.7L694.5 1569.6L695 1607.8L695.5 1628.4L696 1639.6L696.5 1646.4L697 1650.8L697.5 1654.2L698 1656.7L698.5 1658.9L699 1660.6L699.5 1662L700 1663.2L700.5 1664.3L701 1665.1L701.5 1665.8L702 1666.4L702.5 1666.9L703 1667.3L703.5 1667.5L704 1667.7L704.5 1667.6L705 1667.2L705.5 1666.4L706 1664.9L706.5 1662.6L707 1659.3L707.5 1654.7L708 1648.9L708.5 1642L709 1634.6L709.5 1627.3L710 1621.2L710.5 1617.1L710.9 1616L711 1616L711.5 1618.1L712 1622.9L712.5 1629L713 1613.7L713.5 1627.8L714 1649.4L714.5 1654.1L715 1656.9L715.5 1626.1L716 1610L716.5 1624.9L717 1641.5L717.5 1625.9L718 1604L718.5 1576.8L719 1547.8L719.5 1522.5L720 1508L720.2 1506.5L720.5 1509.4L721 1526.3L721.5 1548.2L722 1507.2L722.5 1548.6L723 1627.2L723.5 1641.4L724 1631L724.5 1549L725 1508L725.5 1549L726 1631L726.5 1637.2L727 1618.9L727.5 1549L728 1508L728.5 1499.3L729 1442.4L729.5 1388.7L730 1350.9L730.4 1340.5L730.5 1341.2L731 1363.3L731.5 1409.1L732 1465.5L732.5 1521L733 1568.1L733.5 1603.7L734 1599.2L734.5 1618L735 1651.8L735.5 1656.4L736 1654.3L736.5 1619.1L737 1601.8L737.5 1619.6L738 1651.5L738.5 1646.1L739 1639.2L739.5 1620.2L740 1603.3L740.5 1613.9L741 1607L741.5 1602.8L741.8 1602L742 1602.2L742.5 1605.3L743 1611.4L743.5 1619.1L744 1627.5L744.5 1635.3L745 1642.1L745.5 1647.3L746 1650.9L746.5 1653L747 1653.7L747.5 1653.2L748 1651.4L748.5 1648.1L749 1642.2L749.5 1632.1L750 1614.5L750.5 1585.1L751 1538.4L751.5 1469.3L752 1375.1L752.5 1258.6L753 1129.9L753.5 1007.1L754 915.8L754.5 881.5L755 915.8L755.5 1007.1L756 1129.8L756.5 1258.6L757 1375.1L757.5 1469.2L758 1538.4L758.5 1585.1L759 1614.5L759.5 1632.1L760 1642.4L760.5 1648.5L761 1652.3L761.5 1654.8L762 1656.6L762.5 1658L763 1659L763.5 1659.7L764 1660L764.5 1660L765 1659.4L765.5 1657.8L766 1654.7L766.5 1649.4L767 1641.2L767.5 1629.4L768 1614L768.5 1595.7L769 1576.4L769.5 1558.9L770 1546.9L770.4 1543.6L770.5 1543.8L771 1550.4L771.5 1545.1L772 1565.3L772.5 1601.9L773 1618.7L773.5 1632.2L774 1589.5L774.5 1547.7L775 1567.5L775.5 1628.8L776 1647.6L776.5 1640.9L777 1590.9L777.5 1549.9L778 1569.3L778.5 1539.7L779 1488.2L779.5 1428.1L780 1365.6L780.5 1309.8L781 1272.1L781.4 1262L781.5 1262.7L782 1284.4L782.5 1330.8L783 1390.8L783.5 1453.4L784 1510.7L784.5 1558.1L785 1594.1L785.5 1619.4L786 1601.3L786.5 1566.2L787 1583.6L787.5 1635.7L788 1658.1L788.5 1654.8L789 1604.3L789.5 1569.8L790 1585.7L790.5 1636.2L791 1646.4L791.5 1636.7L792 1603.3L792.5 1567.8L793 1583.6L793.5 1562L794 1540.6L794.5 1524.3L795 1516.8L795.1 1516.6L795.5 1520.3L796 1533.7L796.5 1553.8L797 1576.5L797.5 1598.6L798 1604.4L798.5 1569.8L799 1585.8L799.5 1636.3L800 1657.7L800.5 1654.9L801 1604.4L801.5 1569.8L802 1585.8L802.5 1636.3L803 1654.1L803.5 1648.9L804 1604.4L804.5 1569.8L805 1585.8L805.5 1612.9L806 1601.4L806.5 1590.3L807 1580.5L807.5 1569.8L808 1569.4L808.2 1569L808.5 1569.6L809 1573.8L809.5 1581.1L810 1590.5L810.5 1600.7L811 1610.7L811.5 1619.6L812 1626.7L812.5 1631.8L813 1634.8L813.5 1633.5L814 1635.8L814.5 1634.8L815 1633.6L815.5 1632.8L816 1633L816.5 1634.3L817 1636.8L817.5 1640.3L818 1644.2L818.5 1648.5L819 1652.6L819.5 1656.4L820 1659.7L820.5 1662.4L821 1664.6L821.5 1666.2L822 1667.4L822.5 1668.2L823 1668.8L823.5 1669.1L824 1669.4L824.5 1669.5L825 1669.5L825.5 1669.5L826 1669.5L826.5 1669.4L827 1669.3L827.5 1669.2L828 1669.1L828.5 1668.9L829 1668.7L829.5 1668.5L830 1668.3L830.5 1668.1L831 1667.8L831.5 1667.5L832 1667.2L832.5 1666.8L833 1666.4L833.5 1665.9L834 1665.4L834.5 1664.8L835 1664.2L835.5 1663.5L836 1662.7L836.5 1661.9L837 1660.9L837.5 1659.8L838 1658.6L838.5 1657.1L839 1655.5L839.5 1653.6L840 1651.4L840.5 1648.7L841 1645.4L841.5 1640.9L842 1634.6L842.5 1625.4L843 1611.3L843.5 1589.6L844 1556.7L844.5 1508.1L845 1439.2L845.5 1346L846 1226.7L846.5 1083.2L847 922.1L847.5 755.5L848 601.3L848.5 481.6L849 418.3L849.2 412.5L849.5 425.6L850 501.7L850.5 630.2L851 788.5L851.5 955.2L852 1113.7L852.5 1252.7L853 1366.8L853.5 1454.9L854 1519.4L854.5 1564.5L855 1594.8L855.5 1614.7L856 1627.7L856.5 1636.2L857 1642.1L857.5 1646.3L858 1649.5L858.5 1652.1L859 1654.3L859.5 1656.1L860 1657.7L860.5 1659.1L861 1660.3L861.5 1661.4L862 1662.4L862.5 1663.3L863 1664.1L863.5 1664.8L864 1665.4L864.5 1666L865 1666.5L865.5 1667L866 1667.4L866.5 1667.8L867 1668.2L867.5 1668.5L868 1668.8L868.5 1669.1L869 1669.3L869.5 1669.6L870 1669.8L870.5 1670L871 1670.1L871.5 1670.3L872 1670.4L872.5 1670.5L873 1670.7L873.5 1670.7L874 1670.8L874.5 1670.9L875 1671L875.5 1671L876 1671L876.5 1671.1L877 1671.1L877.5 1671.1L878 1671.1L878.5 1671.1L879 1671.1L879.5 1671L880 1671L880.5 1670.9L881 1670.8L881.5 1670.7L882 1670.5L882.5 1670.3L883 1670L883.5 1669.6L884 1669.1L884.5 1668.5L885 1667.6L885.5 1666.6L886 1665.3L886.5 1663.8L887 1662L887.5 1659.8L888 1657.5L888.5 1654.9L889 1652.1L889.5 1649.3L890 1646.5L890.5 1643.9L891 1641.6L891.5 1639.8L892 1638.6L892.5 1638L893 1638.2L893.5 1639L894 1640.5L894.5 1642.3L895 1644.5L895.5 1646.8L896 1649.1L896.5 1651.2L897 1652.9L897.5 1654.1L898 1654.2L898.5 1652.5L899 1648L899.5 1639.5L900 1625.8L900.5 1606.8L901 1583.8L901.5 1560.3L902 1542L902.5 1535L903 1542.2L903.5 1560.7L904 1584.4L904.5 1607.7L905 1627.3L905.5 1641.7L906 1651.1L906.5 1656.8L907 1659.8L907.5 1661.4L908 1662.2L908.5 1662.5L909 1662.6L909.5 1662.5L910 1662.3L910.5 1662L911 1661.5L911.5 1660.6L912 1659.3L912.5 1657L913 1652.8L913.5 1645.3L914 1632.4L914.5 1612.1L915 1583.3L915.5 1547.1L916 1507.8L916.5 1473L917 1452.9L917.2 1451L917.5 1455.3L918 1479L918.5 1515.3L919 1554.5L919.5 1589.4L920 1616.3L920.5 1634.9L921 1646.5L921.5 1653.2L922 1656.9L922.5 1658.9L923 1660.1L923.5 1660.8L924 1661.3L924.5 1661.7L925 1662L925.5 1662.3L926 1662.4L926.5 1662.6L927 1662.7L927.5 1662.7L928 1662.8L928.5 1662.8L929 1662.8L929.5 1662.7L930 1662.6L930.5 1662.6L931 1662.5L931.5 1662.4L932 1662.2L932.5 1662.1L933 1661.9L933.5 1661.7L934 1661.5L934.5 1661.2L935 1660.9L935.5 1660.4L936 1659.8L936.5 1659L937 1657.7L937.5 1655.8L938 1653L938.5 1648.5L939 1641.9L939.5 1632.2L940 1618.6L940.5 1600.4L941 1576.9L941.5 1548.5L942 1515.8L942.5 1480.9L943 1446.3L943.5 1415.9L944 1394L944.5 1384.2L944.6 1384L945 1388.8L945.5 1406.7L946 1434.7L946.5 1468.5L947 1504.2L947.5 1538.5L948 1569.2L948.5 1595.1L949 1615.8L949.5 1631.6L950 1643.1L950.5 1651.2L951 1656.8L951.5 1660.6L952 1663.1L952.5 1664.9L953 1666.1L953.5 1667.1L954 1667.8L954.5 1668.4L955 1668.8L955.5 1669.2L956 1669.5L956.5 1669.7L957 1669.9L957.5 1670.1L958 1670.2L958.5 1670.2L959 1670.2L959.5 1670.2L960 1670.1L960.5 1670L961 1669.7L961.5 1669.3L962 1668.6L962.5 1667.5L963 1665.8L963.5 1663L964 1658.8L964.5 1652.6L965 1644.1L965.5 1633.1L966 1619.8L966.5 1605L967 1589.9L967.5 1576.5L968 1567.1L968.5 1563.7L969 1567.2L969.5 1576.6L970 1590L970.5 1605.1L971 1620L971.5 1633.3L972 1644.3L972.5 1652.9L973 1659.1L973.5 1663.4L974 1666.2L974.5 1668L975 1669L975.5 1669.7L976 1670L976.5 1670.1L977 1670L977.5 1669.8L978 1669.4L978.5 1668.8L979 1668.1L979.5 1667.3L980 1666.5L980.5 1665.6L981 1664.9L981.5 1664.3L982 1664L982.2 1664L982.5 1664.1L983 1664.4L983.5 1665L984 1665.8L984.5 1666.7L985 1667.6L985.5 1668.4L986 1669.2L986.5 1669.8L987 1670.2L987.5 1670.5L988 1670.8L988.5 1670.9L989 1670.9L989.5 1670.9L990 1670.8L990.5 1670.7L991 1670.5L991.5 1670.3L992 1670.1L992.5 1669.8L993 1669.6L993.5 1669.3L994 1668.9L994.5 1668.5L995 1668.1L995.5 1667.6L996 1667L996.5 1666.3L997 1665.5L997.5 1664.5L998 1663.2L998.5 1661.5L999 1659.2L999.5 1656.1L1000 1651.9L1000.5 1646.2L1001 1638.5L1001.5 1628.3L1002 1615.1L1002.5 1598.4L1003 1577.8L1003.5 1553.2L1004 1524.7L1004.5 1492.9L1005 1458.6L1005.5 1423.2L1006 1388.5L1006.5 1357L1007 1330.9L1007.5 1313L1008 1305.2L1008.1 1305L1008.5 1308.6L1009 1322.6L1009.5 1345.6L1010 1375.2L1010.5 1408.8L1011 1444.1L1011.5 1479L1012 1511.9L1012.5 1541.8L1013 1567.9L1013.5 1590L1014 1608.2L1014.5 1622.7L1015 1634L1015.5 1642.6L1016 1649L1016.5 1653.7L1017 1657.2L1017.5 1659.7L1018 1661.5L1018.5 1662.9L1019 1664L1019.5 1664.9L1020 1665.6L1020.5 1666.1L1021 1666.6L1021.5 1667.1L1022 1667.5L1022.5 1667.8L1023 1668.1L1023.5 1668.4L1024 1668.6L1024.5 1668.9L1025 1669.1L1025.5 1669.3L1026 1669.4L1026.5 1669.6L1027 1669.8L1027.5 1669.9L1028 1670L1028.5 1670.1L1029 1670.2L1029.5 1670.4L1030 1670.4L1030.5 1670.5L1031 1670.6L1031.5 1670.7L1032 1670.8L1032.5 1670.8L1033 1670.9L1033.5 1670.9L1034 1671L1034.5 1671L1035 1671.1L1035.5 1671.1L1036 1671.1L1036.5 1671.2L1037 1671.2L1037.5 1671.2L1038 1671.2L1038.5 1671.2L1039 1671.2L1039.5 1671.2L1040 1671.2L1040.5 1671.2L1041 1671.2L1041.5 1671.1L1042 1671.1L1042.5 1671L1043 1670.9L1043.5 1670.7L1044 1670.5L1044.5 1670.2L1045 1669.9L1045.5 1669.4L1046 1668.7L1046.5 1667.8L1047 1666.6L1047.5 1665.2L1048 1663.4L1048.5 1661.2L1049 1658.7L1049.5 1655.8L1050 1652.6L1050.5 1649.2L1051 1645.7L1051.5 1642.3L1052 1639L1052.5 1636.2L1053 1634.1L1053.5 1632.8L1053.9 1632.5L1054 1632.5L1054.5 1633.2L1055 1634.9L1055.5 1637.3L1056 1640.3L1056.5 1643.7L1057 1647.2L1057.5 1650.7L1058 1654L1058.5 1657.1L1059 1659.9L1059.5 1662.3L1060 1664.3L1060.5 1665.9L1061 1667.3L1061.5 1668.3L1062 1669.1L1062.5 1669.8L1063 1670.2L1063.5 1670.6L1064 1670.8L1064.5 1671L1065 1671.1L1065.5 1671.2L1066 1671.3L1066.5 1671.3L1067 1671.3L1067.5 1671.4L1068 1671.4L1068.5 1671.3L1069 1671.3L1069.5 1671.3L1070 1671.3L1070.5 1671.2L1071 1671.2L1071.5 1671.1L1072 1671L1072.5 1670.9L1073 1670.8L1073.5 1670.7L1074 1670.5L1074.5 1670.3L1075 1670L1075.5 1669.7L1076 1669.3L1076.5 1668.8L1077 1668.1L1077.5 1667.2L1078 1666L1078.5 1664.5L1079 1662.4L1079.5 1659.9L1080 1656.6L1080.5 1652.5L1081 1647.6L1081.5 1641.7L1082 1634.9L1082.5 1627.2L1083 1618.6L1083.5 1609.4L1084 1599.8L1084.5 1590.1L1085 1580.8L1085.5 1572.3L1086 1565.2L1086.5 1560L1087 1557.2L1087.3 1556.7L1087.5 1556.9L1088 1559.3L1088.5 1564.1L1089 1570.9L1089.5 1579.1L1090 1588.3L1090.5 1598L1091 1607.7L1091.5 1617L1092 1625.7L1092.5 1633.7L1093 1640.7L1093.5 1646.8L1094 1651.9L1094.5 1656.2L1095 1659.6L1095.5 1662.3L1096 1664.5L1096.5 1666.2L1097 1667.5L1097.5 1668.4L1098 1669.2L1098.5 1669.8L1099 1670.2L1099.5 1670.6L1100 1670.8L1100.5 1671.1L1101 1671.3L1101.5 1671.4L1102 1671.6L1102.5 1671.7L1103 1671.8L1103.5 1671.9L1104 1672L1104.5 1672.1L1105 1672.1L1105.5 1672.1L1106 1672.1L1106.5 1672.1L1107 1672L1107.5 1671.9L1108 1671.8L1108.5 1671.6L1109 1671.3L1109.5 1671L1110 1670.6L1110.5 1670.2L1111 1669.7L1111.5 1669.2L1112 1668.7L1112.5 1668.1L1113 1667.6L1113.5 1667L1114 1666.6L1114.5 1666.2L1115 1665.9L1115.5 1665.7L1115.9 1665.7L1116 1665.7L1116.5 1665.8L1117 1666.1L1117.5 1666.5L1118 1667L1118.5 1667.5L1119 1668.1L1119.5 1668.7L1120 1669.3L1120.5 1669.9L1121 1670.4L1121.5 1670.9L1122 1671.3L1122.5 1671.6L1123 1671.9L1123.5 1672.1L1124 1672.2L1124.5 1672.2L1125 1672.1L1125.5 1671.9L1126 1671.6L1126.5 1671.1L1127 1670.5L1127.5 1669.7L1128 1668.7L1128.5 1667.4L1129 1665.9L1129.5 1664.1L1130 1662L1130.5 1659.6L1131 1657L1131.5 1654.1L1132 1651L1132.5 1647.8L1133 1644.7L1133.5 1641.6L1134 1638.8L1134.5 1636.4L1135 1634.6L1135.5 1633.4L1136 1633L1136.5 1633.4L1137 1634.6L1137.5 1636.4L1138 1638.8L1138.5 1641.6L1139 1644.6L1139.5 1647.7L1140 1650.9L1140.5 1654L1141 1656.8L1141.5 1659.5L1142 1661.9L1142.5 1664L1143 1665.8L1143.5 1667.3L1144 1668.6L1144.5 1669.6L1145 1670.4L1145.5 1671.1L1146 1671.6L1146.5 1672L1147 1672.3L1147.5 1672.5L1148 1672.7L1148.5 1672.8L1149 1672.9L1149.5 1673L1150 1673.1L1150.5 1673.1L1151 1673.1L1151.5 1673.1L1152 1673.1L1152.5 1673.1L1153 1673.1L1153.5 1673L1154 1673L1154.5 1672.9L1155 1672.8L1155.5 1672.7L1156 1672.5L1156.5 1672.3L1157 1672L1157.5 1671.6L1158 1671.2L1158.5 1670.6L1159 1669.9L1159.5 1669L1160 1668L1160.5 1666.8L1161 1665.3L1161.5 1663.7L1162 1661.9L1162.5 1660L1163 1657.9L1163.5 1655.6L1164 1653.3L1164.5 1651.1L1165 1648.9L1165.5 1646.9L1166 1645.2L1166.5 1643.8L1167 1642.9L1167.5 1642.5L1167.6 1642.5L1168 1642.7L1168.5 1643.3L1169 1644.5L1169.5 1646.1L1170 1648L1170.5 1650.1L1171 1652.3L1171.5 1654.5L1172 1656.8L1172.5 1658.9L1173 1660.9L1173.5 1662.8L1174 1664.5L1174.5 1665.9L1175 1667.2L1175.5 1668.3L1176 1669.2L1176.5 1670L1177 1670.6L1177.5 1671.1L1178 1671.5L1178.5 1671.8L1179 1672L1179.5 1672.2L1180 1672.4L1180.5 1672.5L1181 1672.6L1181.5 1672.6L1182 1672.7L1182.5 1672.7L1183 1672.8L1183.5 1672.8L1184 1672.8L1184.5 1672.8L1185 1672.8L1185.5 1672.9L1186 1672.9L1186.5 1672.9L1187 1672.9L1187.5 1672.9L1188 1672.9L1188.5 1672.9L1189 1672.9L1189.5 1672.9L1190 1672.9L1190.5 1672.9L1191 1672.9L1191.5 1672.9L1192 1672.9L1192.5 1672.9L1193 1672.9L1193.5 1672.9L1194 1672.9L1194.5 1672.9L1195 1672.9L1195.5 1672.9L1196 1672.9L1196.5 1672.8L1197 1672.8L1197.5 1672.8L1198 1672.8L1198.5 1672.8L1199 1672.8L1199.5 1672.8L1200 1672.8L1200.5 1672.8L1201 1672.8L1201.5 1672.8L1202 1672.8L1202.5 1672.8L1203 1672.8L1203.5 1672.8L1204 1672.8L1204.5 1672.8L1205 1672.8L1205.5 1672.8L1206 1672.8L1206.5 1672.7L1207 1672.7L1207.5 1672.7L1208 1672.7L1208.5 1672.7L1209 1672.7L1209.5 1672.7L1210 1672.7L1210.5 1672.7L1211 1672.7L1211.5 1672.7L1212 1672.7L1212.5 1672.7L1213 1672.7L1213.5 1672.7L1214 1672.7L1214.5 1672.7L1215 1672.7L1215.5 1672.7L1216 1672.6L1216.5 1672.6L1217 1672.6L1217.5 1672.6L1218 1672.6L1218.5 1672.6L1219 1672.6L1219.5 1672.6L1220 1672.6L1220.5 1672.6L1221 1672.6L1221.5 1672.6L1222 1672.6L1222.5 1672.6L1223 1672.6L1223.5 1672.6L1224 1672.5L1224.5 1672.5L1225 1672.5L1225.5 1672.5L1226 1672.5L1226.5 1672.5L1227 1672.5L1227.5 1672.5L1228 1672.5L1228.5 1672.5L1229 1672.5L1229.5 1672.4L1230 1672.4L1230.5 1672.4L1231 1672.4L1231.5 1672.4L1232 1672.4L1232.5 1672.4L1233 1672.4L1233.5 1672.4L1234 1672.3L1234.5 1672.3L1235 1672.3L1235.5 1672.3L1236 1672.3L1236.5 1672.3L1237 1672.3L1237.5 1672.3L1238 1672.2L1238.5 1672.2L1239 1672.2L1239.5 1672.2L1240 1672.2L1240.5 1672.2L1241 1672.1L1241.5 1672.1L1242 1672.1L1242.5 1672.1L1243 1672.1L1243.5 1672.1L1244 1672L1244.5 1672L1245 1672L1245.5 1672L1246 1672L1246.5 1671.9L1247 1671.9L1247.5 1671.9L1248 1671.9L1248.5 1671.9L1249 1671.8L1249.5 1671.8L1250 1671.8L1250.5 1671.8L1251 1671.8L1251.5 1671.8L1252 1671.7L1252.5 1671.7L1253 1671.7L1253.5 1671.7L1254 1671.7L1254.5 1671.6L1255 1671.6L1255.5 1671.6L1256 1671.6L1256.5 1671.6L1257 1671.5L1257.5 1671.5L1258 1671.5L1258.5 1671.5L1259 1671.4L1259.5 1671.4L1260 1671.4L1260.5 1671.4L1261 1671.4L1261.5 1671.3L1262 1671.3L1262.5 1671.3L1263 1671.3L1263.5 1671.3L1264 1671.3L1264.5 1671.2L1265 1671.2L1265.5 1671.2L1266 1671.2L1266.5 1671.2L1267 1671.2L1267.5 1671.1L1268 1671.1L1268.5 1671.1L1269 1671.1L1269.5 1671.1L1270 1671.1L1270.5 1671.1L1271 1671L1271.5 1671L1272 1671L1272.5 1671L1273 1671L1273.5 1671L1274 1671L1274.5 1670.9L1275 1670.9L1275.5 1670.9L1276 1670.9L1276.5 1670.9L1277 1670.9L1277.5 1670.8L1278 1670.8L1278.5 1670.8L1279 1670.8L1279.5 1670.8L1280 1670.7L1280.5 1670.7L1281 1670.7L1281.5 1670.6L1282 1670.6L1282.5 1670.6L1283 1670.5L1283.5 1670.5L1284 1670.5L1284.5 1670.4L1285 1670.4L1285.5 1670.3L1286 1670.3L1286.5 1670.2L1287 1670.2L1287.5 1670.1L1288 1670L1288.5 1670L1289 1669.9L1289.5 1669.8L1290 1669.7L1290.5 1669.6L1291 1669.6L1291.5 1669.5L1292 1669.4L1292.5 1669.3L1293 1669.1L1293.5 1669L1294 1668.9L1294.5 1668.8L1295 1668.6L1295.5 1668.5L1296 1668.3L1296.5 1668.2L1297 1668L1297.5 1667.8L1298 1667.6L1298.5 1667.5L1299 1667.2L1299.5 1667L1300 1666.8L1300.5 1666.6L1301 1666.3L1301.5 1666L1302 1665.7L1302.5 1665.4L1303 1665.1L1303.5 1664.8L1304 1664.4L1304.5 1664L1305 1663.6L1305.5 1663.1L1306 1662.6L1306.5 1662.1L1307 1661.4L1307.5 1660.8L1308 1660L1308.5 1659.1L1309 1658L1309.5 1656.8L1310 1655.3L1310.5 1653.5L1311 1651.3L1311.5 1648.6L1312 1645.3L1312.5 1641.2L1313 1636.2L1313.5 1630L1314 1622.4L1314.5 1613.1L1315 1601.9L1315.5 1588.4L1316 1572.2L1316.5 1553.1L1317 1530.7L1317.5 1504.7L1318 1474.8L1318.5 1440.7L1319 1402.4L1319.5 1359.8L1320 1313L1320.5 1262.2L1321 1207.7L1321.5 1150.1L1322 1090.1L1322.5 1028.6L1323 966.6L1323.5 905.3L1324 845.9L1324.5 789.9L1325 738.7L1325.5 693.7L1326 656.5L1326.5 628.2L1327 609.9L1327.5 602.2L1327.6 602L1328 605.5L1328.5 619.7L1329 644.1L1329.5 678L1330 720L1330.5 768.9L1331 823.2L1331.5 881.4L1332 942.2L1332.5 1004.1L1333 1066L1333.5 1126.7L1334 1185.3L1334.5 1241.2L1335 1293.5L1335.5 1342L1336 1386.4L1336.5 1426.4L1337 1462.2L1337.5 1493.8L1338 1521.3L1338.5 1545.2L1339 1565.6L1339.5 1582.9L1340 1597.5L1340.5 1609.6L1341 1619.6L1341.5 1627.9L1342 1634.6L1342.5 1640.1L1343 1644.6L1343.5 1648.2L1344 1651.2L1344.5 1653.6L1345 1655.5L1345.5 1657.2L1346 1658.5L1346.5 1659.7L1347 1660.6L1347.5 1661.5L1348 1662.2L1348.5 1662.9L1349 1663.5L1349.5 1664.1L1350 1664.6L1350.5 1665L1351 1665.4L1351.5 1665.8L1352 1666.2L1352.5 1666.6L1353 1666.9L1353.5 1667.2L1354 1667.5L1354.5 1667.8L1355 1668.1L1355.5 1668.3L1356 1668.6L1356.5 1668.8L1357 1669L1357.5 1669.2L1358 1669.4L1358.5 1669.6L1359 1669.8L1359.5 1669.9L1360 1670.1L1360.5 1670.3L1361 1670.4L1361.5 1670.5L1362 1670.6L1362.5 1670.7L1363 1670.8L1363.5 1670.9L1364 1671L1364.5 1671L1365 1671.1L1365.5 1671.1L1366 1671.1L1366.5 1671.2L1367 1671.2L1367.5 1671.2L1368 1671.2L1368.5 1671.2L1369 1671.2L1369.5 1671.1L1370 1671.1L1370.5 1671.1L1371 1671.1L1371.5 1671L1372 1671L1372.5 1670.9L1373 1670.9L1373.5 1670.8L1374 1670.8L1374.5 1670.7L1375 1670.7L1375.5 1670.6L1376 1670.5L1376.5 1670.5L1377 1670.4L1377.5 1670.4L1378 1670.3L1378.5 1670.2L1379 1670.2L1379.5 1670.1L1380 1670.1L1380.5 1670L1381 1669.9L1381.5 1669.9L1382 1669.8L1382.5 1669.8L1383 1669.7L1383.5 1669.7L1384 1669.7L1384.5 1669.6L1385 1669.6L1385.5 1669.6L1386 1669.5L1386.5 1669.5L1387 1669.5L1387.5 1669.5L1388 1669.5L1388.5 1669.5L1389 1669.5L1389.5 1669.5L1390 1669.5L1390.5 1669.5L1391 1669.5L1391.5 1669.5L1392 1669.5L1392.5 1669.5L1393 1669.5L1393.5 1669.5L1394 1669.5L1394.5 1669.5L1395 1669.5L1395.5 1669.5L1396 1669.5L1396.5 1669.5L1397 1669.5L1397.5 1669.5L1398 1669.5L1398.5 1669.5L1399 1669.5L1399.5 1669.5L1400 1669.5L1400.5 1669.5L1401 1669.5L1401.5 1669.5L1402 1669.5L1402.5 1669.5L1403 1669.5L1403.5 1669.5L1404 1669.5L1404.5 1669.4L1405 1669.4L1405.5 1669.4L1406 1669.4L1406.5 1669.4L1407 1669.4L1407.5 1669.4L1408 1669.4L1408.5 1669.4L1409 1669.4L1409.5 1669.4L1410 1669.4L1410.5 1669.4L1411 1669.4L1411.5 1669.4L1412 1669.4L1412.5 1669.4L1413 1669.4L1413.5 1669.4L1414 1669.4L1414.5 1669.4L1415 1669.4L1415.5 1669.4L1416 1669.4L1416.5 1669.4L1417 1669.4L1417.5 1669.5L1418 1669.5L1418.5 1669.5L1419 1669.5L1419.5 1669.5L1420 1669.5L1420.5 1669.5L1421 1669.5L1421.5 1669.5L1422 1669.5L1422.5 1669.5L1423 1669.5L1423.5 1669.5L1424 1669.6L1424.5 1669.6L1425 1669.6L1425.5 1669.7L1426 1669.7L1426.5 1669.8L1427 1669.8L1427.5 1669.9L1428 1669.9L1428.5 1670L1429 1670L1429.5 1670.1L1430 1670.2L1430.5 1670.2L1431 1670.3L1431.5 1670.4L1432 1670.5L1432.5 1670.5L1433 1670.6L1433.5 1670.7L1434 1670.8L1434.5 1670.9L1435 1670.9L1435.5 1671L1436 1671.1L1436.5 1671.2L1437 1671.3L1437.5 1671.4L1438 1671.5L1438.5 1671.5L1439 1671.6L1439.5 1671.7L1440 1671.8L1440.5 1671.9L1441 1672L1441.5 1672L1442 1672.1L1442.5 1672.2L1443 1672.3L1443.5 1672.3L1444 1672.4L1444.5 1672.5L1445 1672.5L1445.5 1672.6L1446 1672.7L1446.5 1672.7L1447 1672.8L1447.5 1672.8L1448 1672.9L1448.5 1672.9L1449 1672.9L1449.5 1673L1450 1673L1450.5 1673L1451 1673.1L1451.5 1673.1L1452 1673.1L1452.5 1673.1L1453 1673.2L1453.5 1673.2L1454 1673.2L1454.5 1673.2L1455 1673.3L1455.5 1673.3L1456 1673.3L1456.5 1673.3L1457 1673.3L1457.5 1673.4L1458 1673.4L1458.5 1673.4L1459 1673.4L1459.5 1673.5L1460 1673.5L1460.5 1673.5L1461 1673.5L1461.5 1673.6L1462 1673.6L1462.5 1673.6L1463 1673.6L1463.5 1673.6L1464 1673.7L1464.5 1673.7L1465 1673.7L1465.5 1673.7L1466 1673.8L1466.5 1673.8L1467 1673.8L1467.5 1673.8L1468 1673.8L1468.5 1673.9L1469 1673.9L1469.5 1673.9L1470 1673.9L1470.5 1673.9L1471 1674L1471.5 1674L1472 1674L1472.5 1674L1473 1674L1473.5 1674.1L1474 1674.1L1474.5 1674.1L1475 1674.1L1475.5 1674.1L1476 1674.1L1476.5 1674.2L1477 1674.2L1477.5 1674.2L1478 1674.2L1478.5 1674.2L1479 1674.2L1479.5 1674.3L1480 1674.3L1480.5 1674.3L1481 1674.3L1481.5 1674.3L1482 1674.3L1482.5 1674.4L1483 1674.4L1483.5 1674.4L1484 1674.4L1484.5 1674.4L1485 1674.4L1485.5 1674.5L1486 1674.5L1486.5 1674.5L1487 1674.5L1487.5 1674.5L1488 1674.5L1488.5 1674.5L1489 1674.5L1489.5 1674.6L1490 1674.6L1490.5 1674.6L1491 1674.6L1491.5 1674.6L1492 1674.6L1492.5 1674.6L1493 1674.6L1493.5 1674.7L1494 1674.7L1494.5 1674.7L1495 1674.7L1495.5 1674.7L1496 1674.7L1496.5 1674.7L1497 1674.7L1497.5 1674.7L1498 1674.8L1498.5 1674.8L1499 1674.8L1499.5 1674.8L1500 1674.8L1500.5 1674.8L1501 1674.8L1501.5 1674.8L1502 1674.8L1502.5 1674.8L1503 1674.8L1503.5 1674.9L1504 1674.9L1504.5 1674.9L1505 1674.9L1505.5 1674.9L1506 1674.9L1506.5 1674.9L1507 1674.9L1507.5 1674.9L1508 1674.9L1508.5 1674.9L1509 1674.9L1509.5 1674.9L1510 1674.9L1510.5 1674.9L1511 1674.9L1511.5 1675L1512 1675L1512.5 1675L1513 1675L1513.5 1675L1514 1675L1514.5 1675L1515 1675L1515.5 1675L1516 1675L1516.5 1675L1517 1675L1517.5 1675L1518 1675L1518.5 1675L1519 1675L1519.5 1675L1520 1675"/>
<path stroke="#bb00cc" d="M373.2 1638.8L373.7 1610.8L374.2 1586.1L374.7 1568L375.2 1539.4L375.7 1497L376.2 1480.8L376.7 1431L377.2 1410L377.7 1409.7L378.2 1436.3L378.7 1469.8L379.2 1496.4L379.7 1503.9L380.2 1510.7L380.7 1517.3L381.2 1517.5L381.7 1529.8L382.2 1540.9L382.7 1542.1L383.2 1562.7L383.7 1570.5L384.2 1569.2L384.7 1582.9L385.2 1587.1L385.7 1583.4L386.2 1587.5L386.7 1583.9L387.2 1590.9L387.7 1595L388.2 1597.6L388.7 1603.2L389.2 1608.5L389.7 1608L390.2 1603.2L390.7 1611.8L391.2 1611.5L391.7 1618.1L392.2 1609.4L392.7 1619.8L393.2 1620.1L393.7 1614.4L394.2 1620.7L394.7 1618.5L395.2 1622.7L395.7 1623.3L396.2 1632.5L396.7 1629.3L397.2 1631.5L397.7 1629.5L398.2 1636.6L398.7 1635.8L399.2 1642.7L399.7 1640.5L400.2 1642.1L400.7 1644.7L401.2 1639.1L401.7 1644.1L402.2 1639.3L402.7 1643.7L403.2 1644.2L403.7 1644.5L404.2 1644.7L404.7 1649.8L405.2 1647.4L405.7 1649.3L406.2 1647.8L406.7 1650.4L407.2 1642.2L407.7 1648.7L408.2 1644L408.7 1646.9L409.2 1640.9L409.7 1642.2L410.2 1646.5L410.7 1638.9L411.2 1637.1L411.7 1636.7L412.2 1639.1L412.7 1642.4L413.2 1640.8L413.7 1632L414.2 1634.5L414.7 1637L415.2 1628L415.7 1629L416.2 1628.1L416.7 1628.5L417.2 1626.4L417.7 1626.6L418.2 1627L418.7 1614.6L419.2 1617.2L419.7 1613.6L420.2 1613.8L420.7 1605.4L421.2 1612.2L421.7 1604.5L422.2 1606.1L422.7 1601.3L423.2 1585L423.7 1584.6L424.2 1581.9L424.7 1573.4L425.2 1560.2L425.7 1561.8L426.2 1550.8L426.7 1542.8L427.2 1542.5L427.7 1533.2L428.2 1522L428.7 1512L429.2 1519.3L429.7 1495.4L430.2 1506L430.7 1481.4L431.2 1470.7L431.7 1475.5L432.2 1459.3L432.7 1440.9L433.2 1451.6L433.7 1429.2L434.2 1417.4L434.7 1416.3L435.2 1402.8L435.7 1407.6L436.2 1399.9L436.7 1385.8L437.2 1378L437.7 1357.4L438.2 1324L438.7 1320.8L439.2 1315.8L439.7 1307.2L440.2 1276.4L440.7 1280.9L441.2 1252.4L441.7 1253.3L442.2 1238.2L442.7 1209.9L443.2 1197.8L443.7 1185.6L444.2 1172.9L444.7 1139L445.2 1137.2L445.7 1099.7L446.2 1111L446.7 1077.6L447.2 1054.2L447.7 1018.1L448.2 1026.9L448.7 987.4L449.2 975.3L449.7 956.8L450.2 943.9L450.7 913.5L451.2 924.2L451.7 906.2L452.2 900.1L452.7 891.6L453.2 867.3L453.7 816.3L454.2 797.4L454.7 807.3L455.2 762.3L455.7 746.4L456.2 721.1L456.7 698.8L457.2 696.9L457.7 646.9L458.2 652.4L458.7 625.8L459.2 606.1L459.7 607.3L460.2 591.8L460.7 554L461.2 519.5L461.7 505.7L462.2 502.2L462.7 527.1L463.2 476.5L463.7 470.9L464.2 453.9L464.7 457.9L465.2 422.2L465.7 451.4L466.2 436L466.7 420.4L467.2 392.7L467.7 378L468.2 367.5L468.7 335.6L469.2 351.7L469.7 312.1L470.2 323.7L470.7 286.9L471.2 311.3L471.7 286.8L472.2 244.9L472.7 256.8L473.2 233.8L473.7 233.2L474.2 226.6L474.7 239.4L475.2 211L475.7 231.8L476.2 187L476.7 175.5L477.2 178.2L477.7 217.4L478.2 200.2L478.7 199.3L479.2 208.2L479.7 179.9L480.2 169.6L480.7 193.4L481.2 163.6L481.7 165.8L482.2 199.3L482.7 164.9L483.2 157.7L483.7 192.3L484.2 171.7L484.7 167.5L485.2 168.3L485.7 194.5L486.2 164.7L486.7 166.1L487.2 156.4L487.7 158L488.2 183.7L488.7 164.4L489.2 158.3L489.7 158.6L490.2 198.5L490.7 207.4L491.2 177L491.7 201.7L492.2 185.9L492.7 168.9L493.2 201.7L493.7 212.2L494.2 206.3L494.7 202.4L495.2 241.2L495.7 237.7L496.2 260.7L496.7 240.8L497.2 239L497.7 269L498.2 275.2L498.7 272.1L499.2 294.3L499.7 297.7L500.2 298.4L500.7 296.7L501.2 321.1L501.7 291.1L502.2 305.2L502.7 324.9L503.2 342L503.7 312.1L504.2 351.2L504.7 357.7L505.2 364.9L505.7 375L506.2 340L506.7 381.4L507.2 388L507.7 369.5L508.2 389.7L508.7 421.7L509.2 418.4L509.7 404.9L510.2 441.4L510.7 434.2L511.2 476.4L511.7 454.1L512.2 462.1L512.7 470.2L513.2 488.8L513.7 515.9L514.2 543.7L514.7 531.3L515.2 529.5L515.7 568.4L516.2 574.2L516.7 570L517.2 568.7L517.7 570.6L518.2 618.5L518.7 624.9L519.2 604L519.7 621.6L520.2 628.6L520.7 626.1L521.2 639.8L521.7 654.8L522.2 667.5L522.7 694L523.2 688.8L523.7 716.1L524.2 693.7L524.7 698.2L525.2 703.9L525.7 720.7L526.2 727.6L526.7 729.6L527.2 751.9L527.7 718.7L528.2 738.2L528.7 751.8L529.2 751.9L529.7 752.3L530.2 776.9L530.7 765.7L531.2 771L531.7 804.2L532.2 823.9L532.7 803.7L533.2 800.6L533.7 845L534.2 826.6L534.7 828.2L535.2 830.5L535.7 871.9L536.2 879.8L536.7 847.9L537.2 892.8L537.7 897.5L538.2 887.7L538.7 900.2L539.2 894L539.7 923.7L540.2 898.7L540.7 932.7L541.2 914.1L541.7 947.4L542.2 934.3L542.7 956.2L543.2 948L543.7 951.5L544.2 938.2L544.7 952.7L545.2 972.9L545.7 938.6L546.2 947.4L546.7 951.2L547.2 983.8L547.7 984.1L548.2 998.1L548.7 1010L549.2 1022L549.7 1013.5L550.2 1038L550.7 1044.4L551.2 1027L551.7 1050.2L552.2 1069L552.7 1055.7L553.2 1072.8L553.7 1062.5L554.2 1070.4L554.7 1059.6L555.2 1053.1L555.7 1054.1L556.2 1057.1L556.7 1039.9L557.2 1035.1L557.7 1060L558.2 1059.9L558.7 1059.2L559.2 1024.5L559.7 1024.8L560.2 1051.5L560.7 1025.9L561.2 1078L561.7 1087.8L562.2 1096.8L562.7 1088.5L563.2 1126.1L563.7 1120.9L564.2 1115L564.7 1138.3L565.2 1136.4L565.7 1132L566.2 1120.8L566.7 1128.4L567.2 1129.2L567.7 1134.7L568.2 1139.6L568.7 1137.7L569.2 1146.8L569.7 1148.3L570.2 1167.1L570.7 1175.4L571.2 1158.8L571.7 1182.7L572.2 1160.2L572.7 1174.1L573.2 1185.4L573.7 1166.6L574.2 1194.9L574.7 1184.3L575.2 1200.1L575.7 1171.8L576.2 1185.9L576.7 1178.7L577.2 1196.3L577.7 1177.9L578.2 1179.8L578.7 1179.7L579.2 1166.8L579.7 1181.8L580.2 1179.8L580.7 1167.8L581.2 1160.6L581.7 1176.1L582.2 1163.5L582.7 1179.3L583.2 1176.7L583.7 1183.6L584.2 1216.6L584.7 1200.2L585.2 1228.7L585.7 1202L586.2 1221.9L586.7 1227.2L587.2 1220.2L587.7 1229.4L588.2 1225.4L588.7 1248.6L589.2 1235.4L589.7 1237.5L590.2 1227.4L590.7 1257.7L591.2 1246.4L591.7 1242.6L592.2 1247.2L592.7 1264.2L593.2 1249.7L593.7 1263.4L594.2 1266.2L594.7 1246.9L595.2 1270.5L595.7 1265L596.2 1258.9L596.7 1263.7L597.2 1272L597.7 1267.7L598.2 1281.4L598.7 1279.4L599.2 1275.3L599.7 1281.1L600.2 1283.6L600.7 1292L601.2 1288.5L601.7 1294.1L602.2 1284.5L602.7 1295L603.2 1291.9L603.7 1282.9L604.2 1286.9L604.7 1286.5L605.2 1270.5L605.7 1271.3L606.2 1254.4L606.7 1244.4L607.2 1235.5L607.7 1222.1L608.2 1218.1L608.6 1214.5L608.7 1212.6L609.2 1219.9L609.7 1231.6L610.2 1244.6L610.7 1258.2L611.2 1271.9L611.7 1285.5L612.2 1299.3L612.7 1304.2L613.2 1309.5L613.7 1309.6L614.2 1296.7L614.7 1316.1L615.2 1314.8L615.7 1318.2L616.2 1313.2L616.7 1303.5L617.2 1306L617.7 1321.7L618.2 1325.6L618.7 1308.4L619.2 1320.4L619.7 1315.5L620.2 1333.9L620.7 1311.6L621.2 1328.3L621.7 1323.6L622.2 1332.9L622.7 1327.3L623.2 1316.6L623.7 1317.8L624.2 1329.3L624.7 1322.2L625.2 1332.5L625.7 1336.3L626.2 1332.9L626.7 1344.1L627.2 1342.2L627.7 1332.4L628.2 1331.8L628.7 1353.3L629.2 1335.6L629.7 1334.8L630.2 1346.7L630.7 1358.9L631.2 1343L631.7 1356.4L632.2 1346.6L632.7 1355L633.2 1348.5L633.7 1359.5L634.2 1353.6L634.7 1352.1L635.2 1348.5L635.7 1359.2L636.2 1336.7L636.7 1353.8L637.2 1351.4L637.7 1350.7L638.2 1353.9L638.7 1341.7L639.2 1329.7L639.7 1329.4L640.2 1342.1L640.7 1342L641.2 1335.4L641.7 1321.5L642.2 1328.8L642.7 1316.1L643.2 1324.5L643.7 1327.7L644.2 1326.8L644.7 1331.4L645.2 1347.5L645.7 1354.6L646.2 1354.2L646.7 1357L647.2 1370L647.7 1364.3L648.2 1360.1L648.7 1374.5L649.2 1375.1L649.7 1374.6L650.2 1372L650.7 1354L651.2 1379.7L651.7 1375.7L652.2 1376.5L652.7 1368.4L653.2 1381L653.7 1369.4L654.2 1377.7L654.7 1375.2L655.2 1361.5L655.7 1378.4L656.2 1367.3L656.7 1373.7L657.2 1374.2L657.7 1364.3L658.2 1382.8L658.7 1363.4L659.2 1365.3L659.7 1372.4L660.2 1390L660.7 1374.9L661.2 1377.7L661.7 1374.4L662.2 1390.4L662.7 1372.2L663.2 1375.2L663.7 1396.7L664.2 1392.7L664.7 1401.3L665.2 1381.6L665.7 1380.6L666.2 1379.7L666.7 1390.6L667.2 1390.3L667.7 1391L668.2 1395L668.7 1386.3L669.2 1396.5L669.7 1404.8L670.2 1401.7L670.7 1416L671.2 1399.8L671.7 1403L672.2 1413.3L672.7 1406.6L673.2 1413.5L673.7 1428.3L674.2 1438.9L674.7 1441.3L675.2 1443.1L675.7 1442.2L676.2 1439.7L676.7 1429.1L677.2 1445.1L677.7 1431L678.2 1436.5L678.7 1432.7L679.2 1443.3L679.7 1452.4L680.2 1433.6L680.7 1445.1L681.2 1445.9L681.7 1429.2L682.2 1428.7L682.7 1434.3L683.2 1427.3L683.7 1407.8L684.2 1410.1L684.7 1392L685.2 1386L685.7 1362.5L686.2 1352.3L686.7 1331.8L687.2 1319.4L687.7 1306L688.2 1301.2L688.7 1309.3L689.2 1320.2L689.7 1333.3L690.2 1352.3L690.7 1373.2L691.2 1386.2L691.7 1403L692.2 1409.1L692.7 1428.8L693.2 1428.7L693.7 1437.5L694.2 1440.5L694.7 1452.1L695.2 1447.9L695.7 1450.9L696.2 1459.7L696.7 1468.4L697.2 1446.7L697.7 1450.8L698.2 1460.2L698.7 1445.2L699.2 1452.5L699.7 1444.7L700.2 1432.1L700.7 1438.7L701.2 1439.7L701.7 1437.1L702.2 1441.1L702.7 1437L703.2 1436L703.7 1439.4L704.2 1443.5L704.7 1435.7L705.2 1443.8L705.7 1433.4L706.2 1431.3L706.7 1448.7L707.2 1443.3L707.7 1446.2L708.2 1457.1L708.7 1456.2L709.2 1438.7L709.7 1448.6L710.2 1441L710.7 1458.5L711.2 1446.3L711.7 1440.2L712.2 1440.3L712.7 1460.5L713.2 1448.6L713.7 1452.3L714.2 1443.3L714.7 1459.4L715.2 1455L715.7 1442.4L716.2 1450.5L716.7 1451L717.2 1439.1L717.7 1454.3L718.2 1460.9L718.7 1452.9L719.2 1458.6L719.7 1460.4L720.2 1449.2L720.7 1440.3L721.2 1449.2L721.7 1447.7L722.2 1455.3L722.7 1449.7L723.2 1445.6L723.7 1449.5L724.2 1444.7L724.7 1450.7L725.2 1459L725.7 1450.2L726.2 1452.5L726.7 1460.2L727.2 1449.9L727.7 1445.5L728.2 1461.4L728.7 1452.1L729.2 1448L729.7 1455.9L730.2 1459.3L730.7 1457.4L731.2 1454L731.7 1451.2L732.2 1454.7L732.7 1465.8L733.2 1450.2L733.7 1448.6L734.2 1468.1L734.7 1465.6L735.2 1468.1L735.7 1453.6L736.2 1453.1L736.7 1473.5L737.2 1467.9L737.7 1471.9L738.2 1466.4L738.7 1457.1L739.2 1476.9L739.7 1475.4L740.2 1469.2L740.7 1469.3L741.2 1465.3L741.7 1473.1L742.2 1480.6L742.7 1476.7L743.2 1463.7L743.7 1469.5L744.2 1484L744.7 1469.3L745.2 1480.3L745.7 1470.2L746.2 1486L746.7 1467.5L747.2 1480.7L747.7 1473.2L748.2 1467.3L748.7 1466.8L749.2 1467.3L749.7 1461.5L750.2 1452.8L750.7 1446.7L751.2 1437.5L751.7 1431.2L752.2 1426.3L752.4 1426.5L752.7 1426.7L753.2 1432.8L753.7 1442L754.2 1448.7L754.7 1452.8L755.2 1465.3L755.7 1469.5L756.2 1468.8L756.7 1478.2L757.2 1472.2L757.7 1473.3L758.2 1487L758.7 1479.5L759.2 1490.5L759.7 1493.7L760.2 1488L760.7 1485L761.2 1478.3L761.7 1495.4L762.2 1483.6L762.7 1488.9L763.2 1496.3L763.7 1478.6L764.2 1484.6L764.7 1496.8L765.2 1480.3L765.7 1497.4L766.2 1497.7L766.7 1492.6L767.2 1479.8L767.7 1499L768.2 1480.2L768.7 1486.6L769.2 1498.2L769.7 1487.4L770.2 1489.7L770.7 1487.3L771.2 1483.5L771.7 1484.6L772.2 1477.7L772.7 1495.3L773.2 1481.1L773.7 1489.5L774.2 1481.4L774.7 1479L775.2 1476.8L775.7 1491L776.2 1486.5L776.7 1476.5L777.2 1475.4L777.7 1482.7L778.2 1471.8L778.7 1474.9L779.2 1470.2L779.7 1461.8L780.2 1458.4L780.7 1453.9L781.2 1451.9L781.4 1451.7L781.7 1453.9L782.2 1458.7L782.7 1461.5L783.2 1469.4L783.7 1474.9L784.2 1478.9L784.7 1491L785.2 1495.4L785.7 1498.3L786.2 1500.5L786.7 1493.9L787.2 1502.6L787.7 1504.7L788.2 1499.2L788.7 1508.6L789.2 1510.1L789.7 1497.6L790.2 1495.5L790.7 1504.1L791.2 1496L791.7 1507.4L792.2 1498.6L792.7 1494L793.2 1500L793.7 1497.6L794.2 1491.9L794.7 1492.4L795.2 1501.7L795.7 1490.3L796.2 1503.6L796.7 1485.2L797.2 1501.6L797.7 1500.8L798.2 1502.2L798.7 1486.1L799.2 1501.2L799.7 1494.9L800.2 1487.4L800.7 1488.6L801.2 1507.9L801.7 1498.4L802.2 1497.2L802.7 1495.6L803.2 1503.6L803.7 1504.2L804.2 1511.3L804.7 1511L805.2 1500.9L805.7 1511L806.2 1508.8L806.7 1506.5L807.2 1512.3L807.7 1513.4L808.2 1495.6L808.7 1506L809.2 1511.1L809.7 1501.2L810.2 1515.9L810.7 1511.5L811.2 1497.4L811.7 1499.2L812.2 1504.9L812.7 1516.4L813.2 1512.3L813.7 1518.6L814.2 1515.3L814.7 1519.7L815.2 1518.2L815.7 1508.7L816.2 1519.9L816.7 1519.4L817.2 1505.2L817.7 1517.1L818.2 1517.8L818.7 1523.4L819.2 1510.1L819.7 1513.3L820.2 1516.8L820.7 1516.5L821.2 1527.8L821.7 1525.9L822.2 1520.9L822.7 1515.2L823.2 1519.3L823.7 1524.1L824.2 1527.9L824.7 1539L825.2 1523.9L825.7 1540.9L826.2 1541.1L826.7 1532L827.2 1531.3L827.7 1533.6L828.2 1541.6L828.7 1548.5L829.2 1553L829.7 1540.3L830.2 1539.8L830.7 1554.2L831.2 1544.3L831.7 1553L832.2 1554.6L832.7 1550.9L833.2 1559.3L833.7 1551.3L834.2 1555.2L834.7 1545.7L835.2 1548.9L835.7 1541.9L836.2 1540.8L836.7 1550.4L837.2 1550.3L837.7 1537.7L838.2 1544.5L838.7 1550.9L839.2 1550.7L839.7 1532.4L840.2 1538.4L840.7 1546.2L841.2 1535.9L841.7 1533.5L842.2 1531.6L842.7 1518.4L843.2 1513.3L843.7 1520.6L844.2 1511.1L844.7 1495.6L845.2 1475.1L845.7 1460.9L846.2 1438.9L846.7 1416.8L847.2 1393.5L847.7 1360.8L848.2 1339.9L848.7 1315.4L849.2 1307.1L849.4 1305.1L849.7 1305.7L850.2 1322.1L850.7 1348.6L851.2 1374.6L851.7 1401.8L852.2 1435.7L852.7 1458.9L853.2 1483.8L853.7 1494.9L854.2 1512.1L854.7 1522.3L855.2 1535.2L855.7 1536.9L856.2 1551L856.7 1543.5L857.2 1546.5L857.7 1557.5L858.2 1560.6L858.7 1556.2L859.2 1567.6L859.7 1560.7L860.2 1570.5L860.7 1564.5L861.2 1571.6L861.7 1567.3L862.2 1561.4L862.7 1574.6L863.2 1560.7L863.7 1563.1L864.2 1563.6L864.7 1561.5L865.2 1563.6L865.7 1557.4L866.2 1548L866.7 1554.3L867.2 1541.1L867.7 1532.8L868.2 1529.6L868.7 1528.6L869.2 1527.8L869.7 1537.6L870.2 1521.1L870.7 1534.5L871.2 1521.3L871.7 1521.1L872.2 1526.2L872.7 1528.6L873.2 1535.4L873.7 1530.2L874.2 1535.4L874.7 1539.5L875.2 1540.5L875.7 1529L876.2 1527.9L876.7 1543.3L877.2 1546.6L877.7 1542.7L878.2 1545.7L878.7 1545.2L879.2 1538.2L879.7 1541.1L880.2 1541L880.7 1545L881.2 1536.5L881.7 1543.2L882.2 1541L882.7 1539.6L883.2 1531.2L883.7 1543L884.2 1534L884.7 1541.1L885.2 1530L885.7 1538.8L886.2 1536.4L886.7 1529.1L887.2 1532.5L887.7 1542.8L888.2 1541.6L888.7 1525.4L889.2 1542.9L889.7 1537.5L890.2 1524.8L890.7 1542.2L891.2 1539.1L891.7 1537.9L892.2 1540.1L892.7 1532.7L893.2 1530.3L893.7 1535.3L894.2 1539.1L894.7 1525.8L895.2 1525.8L895.7 1530.2L896.2 1538.1L896.7 1530.4L897.2 1528.6L897.7 1532.3L898.2 1524L898.7 1532.9L899.2 1530.5L899.7 1537.9L900.2 1529.4L900.7 1525.5L901.2 1526.1L901.7 1535.2L902.2 1521.6L902.7 1527.2L903.2 1533.2L903.7 1533.9L904.2 1527.8L904.7 1539.7L905.2 1531.7L905.7 1530.9L906.2 1535.3L906.7 1529.3L907.2 1537.2L907.7 1537.7L908.2 1541.2L908.7 1529.9L909.2 1540.6L909.7 1533.9L910.2 1538.6L910.7 1529.5L911.2 1529.1L911.7 1542.6L912.2 1527.5L912.7 1532L913.2 1537.1L913.7 1530.2L914.2 1532.5L914.7 1525.4L915.2 1525.4L915.7 1521.3L916.2 1518.7L916.7 1515L917.2 1512.6L917.7 1511.4L917.9 1513.2L918.2 1512.8L918.7 1516L919.2 1517L919.7 1517L920.2 1524.5L920.7 1522.5L921.2 1526.7L921.7 1532.6L922.2 1529.8L922.7 1537.4L923.2 1531.3L923.7 1543.9L924.2 1544.9L924.7 1536.3L925.2 1541.9L925.7 1547.8L926.2 1542.3L926.7 1546.6L927.2 1542.7L927.7 1539.8L928.2 1538.3L928.7 1553L929.2 1544L929.7 1537.6L930.2 1547.4L930.7 1542.4L931.2 1554.9L931.7 1541.6L932.2 1547.2L932.7 1542.2L933.2 1544.4L933.7 1543.2L934.2 1557.6L934.7 1546.2L935.2 1555.1L935.7 1553.7L936.2 1552.3L936.7 1547.2L937.2 1545.8L937.7 1540.1L938.2 1552.4L938.7 1547.7L939.2 1542.9L939.7 1534.4L940.2 1534.2L940.7 1530.6L941.2 1523.9L941.7 1519.9L942.2 1516.9L942.7 1512.2L943.2 1505.3L943.7 1499.9L944.2 1498.8L944.5 1500.2L944.7 1499.3L945.2 1501.6L945.7 1504.9L946.2 1510.1L946.7 1513.7L947.2 1523.3L947.7 1528.6L948.2 1531.8L948.7 1533.4L949.2 1539L949.7 1545.1L950.2 1543.3L950.7 1550.1L951.2 1544.9L951.7 1556.7L952.2 1560.5L952.7 1550.3L953.2 1559.8L953.7 1551.3L954.2 1555.8L954.7 1557.9L955.2 1565.4L955.7 1553.8L956.2 1566.2L956.7 1551.2L957.2 1552.8L957.7 1562.5L958.2 1565.4L958.7 1552.7L959.2 1559.3L959.7 1564.8L960.2 1558.4L960.7 1561.9L961.2 1558.9L961.7 1554.8L962.2 1550.3L962.7 1551.1L963.2 1557.7L963.7 1552.4L964.2 1550.4L964.7 1544.1L965.2 1548.9L965.7 1543.4L966.2 1538.8L966.7 1538.8L967.2 1537.1L967.7 1534.7L968.2 1534.8L968.7 1533.5L969.2 1537.5L969.7 1539.3L970.2 1542.6L970.7 1541.7L971.2 1546.9L971.7 1544.3L972.2 1545.9L972.7 1546.7L973.2 1555.8L973.7 1560.6L974.2 1556.7L974.7 1549.3L975.2 1552.7L975.7 1564L976.2 1554.4L976.7 1551.2L977.2 1550.5L977.7 1554.8L978.2 1552.5L978.7 1553L979.2 1561.3L979.7 1565.8L980.2 1555.2L980.7 1565.5L981.2 1561.5L981.7 1551.5L982.2 1559.3L982.7 1560.4L983.2 1553.8L983.7 1565.5L984.2 1554.1L984.7 1556.2L985.2 1565.9L985.7 1567.2L986.2 1571.2L986.7 1558.7L987.2 1571.4L987.7 1574.9L988.2 1561L988.7 1566.4L989.2 1565.7L989.7 1565.3L990.2 1577.1L990.7 1576.9L991.2 1570.9L991.7 1578.8L992.2 1572.1L992.7 1569L993.2 1570.9L993.7 1572.2L994.2 1581.8L994.7 1579.3L995.2 1569.4L995.7 1582L996.2 1575.9L996.7 1583.7L997.2 1569.9L997.7 1581.9L998.2 1578L998.7 1575.6L999.2 1572.4L999.7 1568.5L1000.2 1570.6L1000.7 1575L1001.2 1577.3L1001.7 1566.4L1002.2 1560.4L1002.7 1569.9L1003.2 1556.7L1003.7 1559.4L1004.2 1550.9L1004.7 1544.2L1005.2 1536.6L1005.7 1526.1L1006.2 1520.4L1006.7 1513.8L1007.2 1503.4L1007.7 1496.6L1008.2 1490.1L1008.7 1485.6L1009.2 1483.3L1009.3 1484L1009.7 1485.4L1010.2 1490.1L1010.7 1495.7L1011.2 1504.7L1011.7 1510.9L1012.2 1519.9L1012.7 1532.5L1013.2 1538.8L1013.7 1543.9L1014.2 1556L1014.7 1560.2L1015.2 1566.8L1015.7 1568.9L1016.2 1568.8L1016.7 1582.6L1017.2 1574.4L1017.7 1580.7L1018.2 1580.8L1018.7 1584.6L1019.2 1582.7L1019.7 1591.6L1020.2 1587.1L1020.7 1594.3L1021.2 1591.5L1021.7 1589.6L1022.2 1597.1L1022.7 1599.5L1023.2 1589.1L1023.7 1588.7L1024.2 1590.2L1024.7 1594.6L1025.2 1588.8L1025.7 1596.2L1026.2 1586.5L1026.7 1586.6L1027.2 1584.7L1027.7 1586L1028.2 1588.1L1028.7 1579.4L1029.2 1582.3L1029.7 1577L1030.2 1582.1L1030.7 1585.9L1031.2 1578.5L1031.7 1577.2L1032.2 1572.6L1032.7 1573.3L1033.2 1586.4L1033.7 1575.5L1034.2 1583.6L1034.7 1577.1L1035.2 1582.2L1035.7 1583.4L1036.2 1581.1L1036.7 1580.7L1037.2 1578.5L1037.7 1579.7L1038.2 1579.4L1038.7 1584.2L1039.2 1580.1L1039.7 1585.5L1040.2 1581.8L1040.7 1584.4L1041.2 1583.2L1041.7 1591.8L1042.2 1584.8L1042.7 1589.4L1043.2 1587.2L1043.7 1592.1L1044.2 1583.7L1044.7 1580.4L1045.2 1588.7L1045.7 1592.5L1046.2 1585.1L1046.7 1592.4L1047.2 1581.4L1047.7 1592.4L1048.2 1588.9L1048.7 1586.9L1049.2 1591.5L1049.7 1588.4L1050.2 1588.2L1050.7 1582.7L1051.2 1579.5L1051.7 1583.7L1052.2 1579.3L1052.7 1581.5L1053.2 1577.5L1053.7 1576.5L1054.2 1575.6L1054.7 1573.7L1054.9 1573.9L1055.2 1575.7L1055.7 1576.5L1056.2 1576.6L1056.7 1577.7L1057.2 1581.4L1057.7 1581.6L1058.2 1582.1L1058.7 1585.4L1059.2 1587.6L1059.7 1593.3L1060.2 1592.8L1060.7 1590.6L1061.2 1587.3L1061.7 1596.2L1062.2 1595.5L1062.7 1601.2L1063.2 1592.3L1063.7 1596.3L1064.2 1591.7L1064.7 1600.1L1065.2 1594.5L1065.7 1594.7L1066.2 1598L1066.7 1602.3L1067.2 1599.8L1067.7 1595.5L1068.2 1603.7L1068.7 1605.7L1069.2 1601.1L1069.7 1604.8L1070.2 1597.7L1070.7 1598.1L1071.2 1597L1071.7 1599.1L1072.2 1602.3L1072.7 1609.1L1073.2 1601.1L1073.7 1602.9L1074.2 1603.2L1074.7 1604.2L1075.2 1602.9L1075.7 1610.1L1076.2 1605.4L1076.7 1607.5L1077.2 1609.8L1077.7 1609.8L1078.2 1611.7L1078.7 1607.1L1079.2 1608.2L1079.7 1607L1080.2 1601.3L1080.7 1602.4L1081.2 1601.4L1081.7 1597L1082.2 1603L1082.7 1598.3L1083.2 1599.6L1083.7 1594.4L1084.2 1587.5L1084.7 1590.2L1085.2 1582.6L1085.7 1578.7L1086.2 1576.8L1086.7 1572.2L1087.2 1570.3L1087.7 1567.9L1088.2 1565.8L1088.7 1565.9L1088.8 1565.7L1089.2 1566.3L1089.7 1566.2L1090.2 1570.7L1090.7 1574.6L1091.2 1575.7L1091.7 1583.2L1092.2 1583.1L1092.7 1587.4L1093.2 1592.3L1093.7 1597.2L1094.2 1602.2L1094.7 1605.9L1095.2 1608.6L1095.7 1608.6L1096.2 1610L1096.7 1606.2L1097.2 1611.6L1097.7 1607.7L1098.2 1611.7L1098.7 1619.1L1099.2 1615.1L1099.7 1620.3L1100.2 1622.3L1100.7 1611.9L1101.2 1619.5L1101.7 1621.5L1102.2 1622.8L1102.7 1616.2L1103.2 1618.6L1103.7 1624L1104.2 1615.4L1104.7 1620.9L1105.2 1614.3L1105.7 1617.8L1106.2 1617L1106.7 1617.8L1107.2 1614.9L1107.7 1610.7L1108.2 1612.9L1108.7 1621.7L1109.2 1616.2L1109.7 1619.2L1110.2 1620.6L1110.7 1619.3L1111.2 1618.4L1111.7 1609.4L1112.2 1611.9L1112.7 1610.4L1113.2 1612.3L1113.7 1617L1114.2 1616.1L1114.7 1615.5L1115.2 1617.5L1115.7 1616.2L1116.2 1612.1L1116.7 1621.3L1117.2 1619.3L1117.7 1617.3L1118.2 1615.5L1118.7 1616.6L1119.2 1616.3L1119.7 1624.5L1120.2 1624.3L1120.7 1623.5L1121.2 1624.5L1121.7 1619.6L1122.2 1617.5L1122.7 1621.7L1123.2 1629.7L1123.7 1627.1L1124.2 1621.7L1124.7 1620.6L1125.2 1624.4L1125.7 1627.2L1126.2 1627.1L1126.7 1624.1L1127.2 1621.6L1127.7 1626.8L1128.2 1627.9L1128.7 1629.1L1129.2 1627.2L1129.7 1620.2L1130.2 1621.4L1130.7 1617.7L1131.2 1623.3L1131.7 1619.8L1132.2 1615.7L1132.7 1614.9L1133.2 1616L1133.7 1612.5L1134.2 1609.7L1134.7 1607.8L1135.2 1606.8L1135.7 1606.2L1136.2 1603.8L1136.7 1604.7L1137.2 1604.7L1137.7 1606.2L1138.2 1609L1138.7 1610.7L1139.2 1613.7L1139.7 1615.7L1140.2 1618.1L1140.7 1619.4L1141.2 1622L1141.7 1623.8L1142.2 1622.5L1142.7 1629.7L1143.2 1630.6L1143.7 1626.2L1144.2 1629.4L1144.7 1631.2L1145.2 1633.5L1145.7 1631.6L1146.2 1635.3L1146.7 1629.5L1147.2 1630.1L1147.7 1635.5L1148.2 1638.8L1148.7 1630.2L1149.2 1636.4L1149.7 1632.9L1150.2 1630.9L1150.7 1631.6L1151.2 1631L1151.7 1635L1152.2 1631.4L1152.7 1635.4L1153.2 1637.5L1153.7 1635.3L1154.2 1636.8L1154.7 1632.3L1155.2 1631.6L1155.7 1638.6L1156.2 1638.3L1156.7 1636L1157.2 1635.1L1157.7 1630.2L1158.2 1630.2L1158.7 1629.9L1159.2 1631.9L1159.7 1632.1L1160.2 1635.2L1160.7 1633.9L1161.2 1636L1161.7 1629.6L1162.2 1632.6L1162.7 1633L1163.2 1630.7L1163.7 1629.8L1164.2 1627.2L1164.7 1628.8L1165.2 1627L1165.7 1624.4L1166.2 1623.9L1166.7 1623.9L1167.2 1623.8L1167.6 1624.5L1167.7 1623.4L1168.2 1624L1168.7 1625.2L1169.2 1627L1169.7 1628.1L1170.2 1629L1170.7 1630.5L1171.2 1632.9L1171.7 1632.8L1172.2 1633.8L1172.7 1635.8L1173.2 1636.2L1173.7 1637.5L1174.2 1638L1174.7 1636.9L1175.2 1638.4L1175.7 1641.4L1176.2 1636.8L1176.7 1639.6L1177.2 1640.4L1177.7 1638.4L1178.2 1638.2L1178.7 1637.5L1179.2 1638L1179.7 1639.4L1180.2 1638.8L1180.7 1644.2L1181.2 1638.8L1181.7 1642.9L1182.2 1642.6L1182.7 1643.6L1183.2 1640.6L1183.7 1644L1184.2 1637.2L1184.7 1635.8L1185.2 1635.1L1185.7 1641.3L1186.2 1635.7L1186.7 1633.3L1187.2 1641.2L1187.7 1639.3L1188.2 1638.3L1188.7 1636.1L1189.2 1639L1189.7 1635.1L1190.2 1637.1L1190.7 1634L1191.2 1635.4L1191.7 1633.9L1192.2 1638.6L1192.7 1634.1L1193.2 1634.1L1193.7 1634.5L1194.2 1641.5L1194.7 1632.8L1195.2 1637L1195.7 1640.4L1196.2 1639.2L1196.7 1638.8L1197.2 1639.2L1197.7 1642.3L1198.2 1642.5L1198.7 1642L1199.2 1638.4L1199.7 1642.1L1200.2 1646.4L1200.7 1642.9L1201.2 1645.7L1201.7 1647.9L1202.2 1639.1L1202.7 1645.9L1203.2 1644L1203.7 1646L1204.2 1649.1L1204.7 1641.5L1205.2 1641.5L1205.7 1648.6L1206.2 1646.6L1206.7 1647.2L1207.2 1649.3L1207.7 1645L1208.2 1644.1L1208.7 1644.4L1209.2 1645.4L1209.7 1651.5L1210.2 1649.7L1210.7 1647.3L1211.2 1645.8L1211.7 1648.7L1212.2 1648.3L1212.7 1645L1213.2 1652.4L1213.7 1650.3L1214.2 1650.3L1214.7 1644.2L1215.2 1651.1L1215.7 1652.8L1216.2 1649.7L1216.7 1647.8L1217.2 1652.2L1217.7 1646.4L1218.2 1652.1L1218.7 1647.8L1219.2 1652.6L1219.7 1646.5L1220.2 1652.5L1220.7 1648.1L1221.2 1647.3L1221.7 1652.5L1222.2 1654L1222.7 1649.9L1223.2 1650.8L1223.7 1651.1L1224.2 1648.7L1224.7 1651.5L1225.2 1651.4L1225.7 1651.6L1226.2 1652L1226.7 1652.6L1227.2 1654.8L1227.7 1653.8L1228.2 1654.2L1228.7 1654.4L1229.2 1650.2L1229.7 1655.8L1230.2 1655.2L1230.7 1652.7L1231.2 1654.6L1231.7 1655.3L1232.2 1654.4L1232.7 1653.5L1233.2 1652.2L1233.7 1650L1234.2 1651.1L1234.7 1654.6L1235.2 1654.6L1235.7 1655.1L1236.2 1656.6L1236.7 1651.1L1237.2 1658.2L1237.7 1657.3L1238.2 1653.8L1238.7 1654.6L1239.2 1657.1L1239.7 1652.2L1240.2 1656.4L1240.7 1655.1L1241.2 1659.2L1241.7 1653.2L1242.2 1659.4L1242.7 1657.3L1243.2 1653.7L1243.7 1653.4L1244.2 1653.9L1244.7 1654.6L1245.2 1659.3L1245.7 1660.9L1246.2 1657.9L1246.7 1661L1247.2 1654.5L1247.7 1661.7L1248.2 1659.5L1248.7 1660.6L1249.2 1662.1L1249.7 1658.8L1250.2 1662L1250.7 1656.2L1251.2 1658L1251.7 1660.4L1252.2 1657.3L1252.7 1657.8L1253.2 1661.3L1253.7 1657.8L1254.2 1657.5L1254.7 1659.8L1255.2 1661.9L1255.7 1658.3L1256.2 1658.2L1256.7 1662.5L1257.2 1664.5L1257.7 1659.4L1258.2 1661L1258.7 1664L1259.2 1662L1259.7 1663.9L1260.2 1660.1L1260.7 1664.1L1261.2 1665.2L1261.7 1666.4L1262.2 1664.6L1262.7 1660.7L1263.2 1665.8L1263.7 1664.5L1264.2 1661.4L1264.7 1667.6L1265.2 1666L1265.7 1663L1266.2 1667.6L1266.7 1662.7L1267.2 1663.4L1267.7 1667.7L1268.2 1665.2L1268.7 1665.6L1269.2 1664.9L1269.7 1667.3L1270.2 1667L1270.7 1668L1271.2 1667.8L1271.7 1668.6L1272.2 1664.6L1272.7 1664.8L1273.2 1667.9L1273.7 1666.2L1274.2 1667.4L1274.7 1668.7L1275.2 1668.5L1275.7 1665.2L1276.2 1668.7L1276.7 1667.6L1277.2 1665.7L1277.7 1669.3L1278.2 1666.7L1278.7 1670.5L1279.2 1667.3L1279.7 1667L1280.2 1667L1280.7 1666.4L1281.2 1667.9L1281.7 1666.6L1282.2 1670.3L1282.7 1669.1L1283.2 1670.8L1283.7 1671.6L1284.2 1669.9L1284.7 1668.5L1285.2 1668.3L1285.7 1672.2L1286.2 1667.7L1286.7 1671.2L1287.2 1671.1L1287.7 1668.5L1288.2 1668.3L1288.7 1669.2L1289.2 1671.2L1289.7 1670.6L1290.2 1668.9L1290.7 1671.3L1291.2 1669.2L1291.7 1669.4L1292.2 1671L1292.7 1669L1293.2 1671.5L1293.7 1669.8L1294.2 1670.4L1294.7 1671.9L1295.2 1671.1L1295.7 1670.8L1296.2 1671.2L1296.7 1673.2L1297.2 1669.3L1297.7 1669.4L1298.2 1673.7L1298.7 1669.6L1299.2 1671.4L1299.7 1673.2L1300.2 1670L1300.7 1671.7L1301.2 1670.3L1301.7 1669.7L1302.2 1670.9L1302.7 1673.1L1303.2 1669.3L1303.7 1669.8L1304.2 1668.6L1304.7 1671.5L1305.2 1668.9L1305.7 1668.3L1306.2 1670.6L1306.7 1670.2L1307.2 1670.4L1307.7 1671.9L1308.2 1670.5L1308.7 1669.8L1309.2 1670.8L1309.7 1667.1L1310.2 1668.6L1310.7 1667.5L1311.2 1668.8L1311.7 1668L1312.2 1665.5L1312.7 1666.6L1313.2 1665.5L1313.7 1666L1314.2 1664.6L1314.7 1662.1L1315.2 1665L1315.7 1662.8L1316.2 1660.9L1316.7 1663.5L1317.2 1657.3L1317.7 1658.8L1318.2 1658.9L1318.7 1654.4L1319.2 1652.5L1319.7 1651.7L1320.2 1648.1L1320.7 1650.5L1321.2 1645.7L1321.7 1642.1L1322.2 1638.5L1322.7 1636.9L1323.2 1634L1323.7 1631.6L1324.2 1627.5L1324.7 1624.1L1325.2 1619.4L1325.7 1616.3L1326.2 1613.3L1326.7 1609.8L1327.2 1609.2L1327.7 1605.3L1328.2 1604.4L1328.7 1602.8L1329.1 1603.5L1329.2 1603.2L1329.7 1603L1330.2 1605.9L1330.7 1607.2L1331.2 1609.2L1331.7 1611.1L1332.2 1615.9L1332.7 1617.5L1333.2 1623L1333.7 1626.3L1334.2 1628.8L1334.7 1631.7L1335.2 1633.8L1335.7 1636.8L1336.2 1642.8L1336.7 1642.9L1337.2 1645.9L1337.7 1649.6L1338.2 1649.5L1338.7 1650.7L1339.2 1654.8L1339.7 1653.8L1340.2 1659.9L1340.7 1660.9L1341.2 1658.5L1341.7 1662.2L1342.2 1661.5L1342.7 1662.8L1343.2 1665.6L1343.7 1662.7L1344.2 1663.4L1344.7 1667.3L1345.2 1667.1L1345.7 1664.4L1346.2 1664.2L1346.7 1664.8L1347.2 1667.1L1347.7 1668.2L1348.2 1668L1348.7 1669.7L1349.2 1668.2L1349.7 1669.8L1350.2 1670.3L1350.7 1669.3L1351.2 1671.1L1351.7 1669.2L1352.2 1668.1L1352.7 1668.5L1353.2 1667L1353.7 1667.5L1354.2 1668.9L1354.7 1667.7L1355.2 1670.1L1355.7 1668.4L1356.2 1671L1356.7 1669.9L1357.2 1667.7L1357.7 1669.7L1358.2 1670.2L1358.7 1668.9L1359.2 1671.3L1359.7 1668.8L1360.2 1672.8L1360.7 1671.7L1361.2 1672.1L1361.7 1671.7L1362.2 1668.4L1362.7 1672.9L1363.2 1671.6L1363.7 1670.3L1364.2 1669.7L1364.7 1669.4L1365.2 1671.3L1365.7 1672.1L1366.2 1669.1L1366.7 1672.6L1367.2 1672.9L1367.7 1672.1L1368.2 1670.9L1368.7 1668.7L1369.2 1669.8L1369.7 1670.5L1370.2 1670.8L1370.7 1669.9L1371.2 1670.3L1371.7 1671.7L1372.2 1672.8L1372.7 1672.3L1373.2 1669.5L1373.7 1670.3L1374.2 1669.5L1374.7 1673.1L1375.2 1669L1375.7 1671.5L1376.2 1668.9L1376.7 1670.5L1377.2 1670.7L1377.7 1669.4L1378.2 1670.3L1378.7 1670.1L1379.2 1672.5L1379.7 1670.4L1380.2 1671.6L1380.7 1672.9L1381.2 1672.7L1381.7 1671L1382.2 1672L1382.7 1669.7L1383.2 1672.7L1383.7 1673.2L1384.2 1668.6L1384.7 1671.8L1385.2 1670.9L1385.7 1672.3L1386.2 1672.3L1386.7 1671.4L1387.2 1669.6L1387.7 1673.2L1388.2 1669.4L1388.7 1668.7L1389.2 1670.7L1389.7 1671.7L1390.2 1672.3L1390.7 1672.5L1391.2 1671.9L1391.7 1669.4L1392.2 1673.4L1392.7 1669.8L1393.2 1670.4L1393.7 1673.4L1394.2 1673.2L1394.7 1670.1L1395.2 1670.4L1395.7 1672.1L1396.2 1669.6L1396.7 1672.6L1397.2 1671.6L1397.7 1673.1L1398.2 1670.7L1398.7 1673.3L1399.2 1672.9L1399.7 1670.2L1400.2 1671.5L1400.7 1670.7L1401.2 1670.4L1401.7 1671.1L1402.2 1672.9L1402.7 1670.7L1403.2 1673.4L1403.7 1672.7L1404.2 1671.9L1404.7 1673.4L1405.2 1673.5L1405.7 1671.1L1406.2 1670.7L1406.7 1672.4L1407.2 1672.4L1407.7 1673.2L1408.2 1671.8L1408.7 1671.6L1409.2 1670.1L1409.7 1674.1L1410.2 1670.3L1410.7 1669.9L1411.2 1672.8L1411.7 1671.2L1412.2 1670.8L1412.7 1671.6L1413.2 1673.2L1413.7 1671.8L1414.2 1670.7L1414.7 1674.1L1415.2 1672.5L1415.7 1674.5L1416.2 1671L1416.7 1671.3L1417.2 1674.5L1417.7 1671.5L1418.2 1671.8L1418.7 1674.2L1419.2 1672.5L1419.7 1671.9L1420.2 1673.4L1420.7 1672.7L1421.2 1670.8L1421.7 1672.2L1422.2 1672.8L1422.7 1674.7L1423.2 1674.5L1423.7 1671.5L1424.2 1671.9L1424.7 1671.6L1425.2 1672.7L1425.7 1672.7L1426.2 1672.9L1426.7 1672.1L1427.2 1673.8L1427.7 1673.1L1428.2 1673.3L1428.7 1672.5L1429.2 1674.4L1429.7 1675.1L1430.2 1674.9L1430.7 1674.6L1431.2 1671.8L1431.7 1672.4L1432.2 1672.3L1432.7 1673.6L1433.2 1674.9L1433.7 1673.5L1434.2 1671.9L1434.7 1673.4L1435.2 1672.9L1435.7 1673.9L1436.2 1674.8L1436.7 1673L1437.2 1673.5L1437.7 1674.1L1438.2 1674.5L1438.7 1672.7L1439.2 1674.3L1439.7 1673.3L1440.2 1674.5L1440.7 1672.6L1441.2 1674.1L1441.7 1673.7L1442.2 1671.9L1442.7 1672.8L1443.2 1672.7L1443.7 1674.3L1444.2 1672.4L1444.7 1674.1L1445.2 1671.8L1445.7 1672.2L1446.2 1673.1L1446.7 1672.5L1447.2 1673.6L1447.7 1672.9L1448.2 1675.2L1448.7 1671.9L1449.2 1672.7L1449.7 1675.2L1450.2 1674.8L1450.7 1673.6L1451.2 1672.9L1451.7 1675.2L1452.2 1672.1L1452.7 1674.5L1453.2 1672L1453.7 1673L1454.2 1674L1454.7 1674.5L1455.2 1675.5L1455.7 1675.5L1456.2 1673.5L1456.7 1673L1457.2 1672.5L1457.7 1674.5L1458.2 1672.4L1458.7 1674.8L1459.2 1672.4L1459.7 1672.5L1460.2 1675.4L1460.7 1672.8L1461.2 1673.4L1461.7 1673.4L1462.2 1673L1462.7 1674L1463.2 1674.2L1463.7 1674.6L1464.2 1673L1464.7 1672.9L1465.2 1675.4L1465.7 1673.3L1466.2 1675L1466.7 1675.3L1467.2 1675.2L1467.7 1674.1L1468.2 1675L1468.7 1675.1L1469.2 1675.5L1469.7 1674.9L1470.2 1673.5L1470.7 1675.8L1471.2 1674.4L1471.7 1674.1L1472.2 1675.7L1472.7 1675L1473.2 1673.3L1473.7 1673.1L1474.2 1673.5L1474.7 1675.3L1475.2 1673.8L1475.7 1674.6L1476.2 1675.3L1476.7 1674.5L1477.2 1673.4L1477.7 1673.6L1478.2 1674.8L1478.7 1675.6L1479.2 1673.6L1479.7 1673.4L1480.2 1674.5L1480.7 1675.2L1481.2 1674.5L1481.7 1674.1L1482.2 1674.6L1482.7 1674.9L1483.2 1675.1L1483.7 1675L1484.2 1675.6L1484.7 1675.1L1485.2 1673.7L1485.7 1675.6L1486.2 1674.2L1486.7 1674.1L1487.2 1674.9L1487.7 1674.5L1488.2 1675.2L1488.7 1674.4L1489.2 1674.4L1489.7 1674.3L1490.2 1674.7L1490.7 1674L1491.2 1674.2L1491.7 1674.6L1492.2 1674.5L1492.7 1675.1L1493.2 1674.1L1493.7 1674.6L1494.2 1674.2L1494.7 1675.1L1495.2 1674.1L1495.7 1675.3L1496.2 1674.8L1496.7 1675.3L1497.2 1675.2L1497.7 1674.5L1498.2 1675.4L1498.7 1675L1499.2 1675.2L1499.7 1674.5L1500.2 1675.3L1500.7 1675L1501.2 1674.5L1501.7 1674.7L1502.2 1674.7L1502.7 1674.4L1503.2 1675.3L1503.7 1674.8L1504.2 1674.7L1504.7 1674.7L1505.2 1674.8L1505.7 1675.3L1506.2 1675.2L1506.7 1674.7L1507.2 1674.9L1507.7 1675.1L1508.2 1675.3L1508.7 1674.9L1509.2 1675.2L1509.7 1674.8L1510.2 1675L1510.7 1674.8L1511.2 1675.2L1511.7 1675L1512.2 1675.2L1512.7 1674.8L1513.2 1674.9L1513.7 1675.1L1514.2 1674.7L1514.7 1674.9L1515.2 1675.1L1515.7 1674.8L1516.2 1675.1L1516.7 1674.8L1517.2 1675.1L1517.7 1674.7L1518.2 1675.2L1518.7 1674.9L1519.2 1675.1L1519.7 1675L1520.2 1674.9"/>
</g>
<rect x="1815" y="75.8" width="510" height="379.7" fill="#fff"/>
<g stroke-width="9" stroke-linecap="round" fill="none">
<path stroke="#0000ff" d="M1829.4 145.2H2045.7"/>
<path stroke="#ff0000" d="M1829.4 265.8H2045.7"/>
<path stroke="#bb00cc" d="M1829.4 386.4H2045.7"/>
</g>
<text x="2066.0" y="175.2" font-size="79.5" textLength="202.0" lengthAdjust="spacingAndGlyphs">22 eV</text>
<text x="2066.0" y="296.0" font-size="79.5" textLength="202.0" lengthAdjust="spacingAndGlyphs">80 eV</text>
<text x="2067.0" y="416.6" font-size="79.5" textLength="244.7" lengthAdjust="spacingAndGlyphs">120 eV</text>
<text x="373.2" y="1825.6" font-size="90.0" text-anchor="middle">0</text>
<g font-size="90.0" text-anchor="middle"><text x="569.7" y="1825.6">1</text><text transform="translate(606.4 1838.1) skewX(-8.0) scale(1 1.240)">/</text><text x="654.7" y="1825.6">4</text></g>
<g font-size="90.0" text-anchor="middle"><text x="808.6" y="1825.6">1</text><text transform="translate(845.4 1838.1) skewX(-8.0) scale(1 1.240)">/</text><text x="893.6" y="1825.6">2</text></g>
<g font-size="90.0" text-anchor="middle"><text x="1047.6" y="1825.6">3</text><text transform="translate(1084.3 1838.1) skewX(-8.0) scale(1 1.240)">/</text><text x="1132.6" y="1825.6">4</text></g>
<text x="1330.3" y="1825.6" font-size="90.0" text-anchor="middle">1</text>
<g font-size="90.0" text-anchor="middle"><text x="1525.4" y="1825.6">5</text><text transform="translate(1562.2 1838.1) skewX(-8.0) scale(1 1.240)">/</text><text x="1610.4" y="1825.6">4</text></g>
<g font-size="90.0" text-anchor="middle"><text x="1764.4" y="1825.6">3</text><text transform="translate(1801.1 1838.1) skewX(-8.0) scale(1 1.240)">/</text><text x="1849.4" y="1825.6">2</text></g>
<g font-size="90.0" text-anchor="middle"><text x="2003.3" y="1825.6">7</text><text transform="translate(2040.1 1838.1) skewX(-8.0) scale(1 1.240)">/</text><text x="2088.3" y="1825.6">4</text></g>
<text x="2285.1" y="1825.6" font-size="90.0" text-anchor="middle">2</text>
<text x="299.7" y="1703.1" font-size="90.0" text-anchor="end">0</text>
<text x="299.7" y="1317.4" font-size="90.0" text-anchor="end">2</text>
<text x="299.7" y="931.6" font-size="90.0" text-anchor="end">4</text>
<text x="299.7" y="545.9" font-size="90.0" text-anchor="end">6</text>
<text x="299.7" y="160.2" font-size="90.0" text-anchor="end">8</text>
<g font-size="105.9"><text y="2023.3"><tspan x="1081" textLength="382" lengthAdjust="spacingAndGlyphs">Relative</tspan> <tspan x="1490.5" textLength="88" lengthAdjust="spacingAndGlyphs">m</tspan></text><text text-anchor="middle" transform="translate(1597.5 2038.3) skewX(-8.6) scale(1 1.28)">/</text><text x="1631" y="2023.3" textLength="41" lengthAdjust="spacingAndGlyphs">z</text></g>
<text transform="rotate(-90)" font-size="105.9"><tspan x="-1261.5" y="134.2" font-size="105.9" textLength="150.0" lengthAdjust="spacingAndGlyphs">Ion</tspan> <tspan x="-1078.0" y="134.2" font-size="105.9" textLength="271.0" lengthAdjust="spacingAndGlyphs">signal</tspan> <tspan x="-774.0" y="134.2" font-size="105.9" textLength="154.0" lengthAdjust="spacingAndGlyphs">(10</tspan><tspan x="-616.0" y="86.8" font-size="74.1" textLength="37.0" lengthAdjust="spacingAndGlyphs">3</tspan> <tspan x="-556.0" y="134.2" font-size="105.9" textLength="190.0" lengthAdjust="spacingAndGlyphs">cps)</tspan></text>
</svg></body></html>
